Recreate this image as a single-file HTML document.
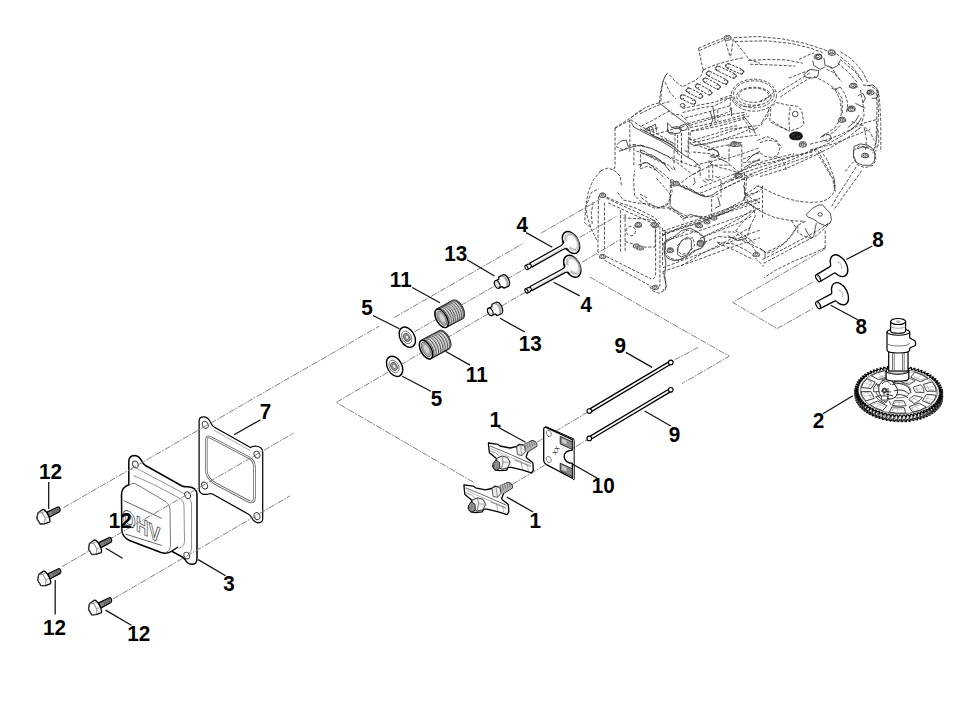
<!DOCTYPE html>
<html><head><meta charset="utf-8"><title>OHV valve train parts diagram</title><style>
html,body{margin:0;padding:0;background:#fff;}
svg{display:block;}
.lb{font-family:"Liberation Sans",sans-serif;font-weight:bold;font-size:22px;fill:#000;}
.ld{stroke:#111;stroke-width:1.25;fill:none;}
.dd{stroke:#828282;stroke-width:1.0;fill:none;stroke-dasharray:6.4 1.3 1.6 1.3;}
.en{stroke:#333;stroke-width:0.85;fill:none;stroke-dasharray:3.2 1.6;}
.es{stroke:#333;stroke-width:0.85;fill:none;}
</style></head>
<body><svg width="973" height="702" viewBox="0 0 973 702">
<rect width="973" height="702" fill="#fff"/>
<polyline points="698.49,48.21 711.65,42.57 722.94,38.24" class="en"/>
<polyline points="699.43,50.47 711.65,45.01 723.31,40.69" class="en"/>
<polyline points="698.49,48.21 700.37,57.62 702.25,66.08 703.19,69.84" class="en"/>
<polyline points="703.19,69.84 701.31,75.48 695.67,80.18 688.14,83.95 682.50,86.77" class="en"/>
<polyline points="682.50,86.77 674.98,81.12 668.40,73.60" class="en"/>
<polyline points="667.64,72.66 663.69,79.24 660.87,89.59 659.37,102.75" class="en"/>
<polyline points="665.76,74.92 662.75,82.07 661.25,93.35 660.87,101.81" class="en"/>
<polyline points="665.01,82.07 669.90,92.41 675.92,98.99" class="en"/>
<polyline points="658.99,102.75 651.47,105.01 643.95,108.40 636.42,113.10 630.78,117.80" class="en"/>
<polyline points="629.84,119.68 629.84,151.65" class="en"/>
<polyline points="630.78,119.68 642.07,127.20 655.23,132.85 668.40,140.37 674.04,144.13" class="en"/>
<polyline points="682.50,108.40 696.61,105.57 711.65,102.75 728.58,98.05" class="en"/>
<polyline points="685.32,117.80 700.37,114.04 715.41,109.90 730.46,105.57" class="en"/>
<polyline points="690.02,125.32 707.89,119.68 726.70,114.98 745.51,112.16" class="en"/>
<polyline points="690.96,130.96 711.65,125.32 730.46,120.62 749.27,115.92" class="en"/>
<polyline points="674.98,132.85 674.98,151.65" class="en"/>
<polyline points="681.56,132.85 681.56,151.65" class="en"/>
<polyline points="688.71,127.20 688.71,151.65" class="en"/>
<polyline points="692.85,140.37 711.65,134.73 730.46,129.08 759.99,125.32" class="en"/>
<polyline points="692.85,146.01 711.65,142.25 730.46,138.49 759.99,134.73" class="en"/>
<polyline points="724.82,38.81 728.58,51.97 730.46,57.62" class="en"/>
<polyline points="733.28,38.81 731.40,51.97 730.46,57.62" class="en"/>
<polyline points="734.22,40.69 743.63,51.97 749.27,59.50 759.99,63.26" class="en"/>
<polyline points="703.19,69.84 715.41,64.76 730.46,60.44 743.63,57.62" class="en"/>
<polyline points="734.11,37.68 757.62,36.55 782.07,38.81 804.63,43.32 821.56,48.78 829.08,51.41" class="en"/>
<polyline points="735.05,41.44 767.02,40.88 791.47,43.51 810.28,48.02 822.50,52.54" class="en"/>
<polyline points="836.61,53.85 844.13,59.50 851.65,66.08 858.24,74.54 862.94,82.07" class="en"/>
<polyline points="840.37,51.97 849.77,57.62 857.30,65.14 862.94,72.66 867.64,82.07" class="en"/>
<polyline points="862.94,84.89 870.46,85.83 876.10,89.59 878.92,95.23 879.86,104.63 880.80,123.44 880.80,151.65" class="en"/>
<polyline points="876.10,92.41 877.04,104.63 876.48,125.32 875.73,151.65" class="en"/>
<polyline points="778.30,92.41 795.23,82.07 810.28,72.66" class="en"/>
<polyline points="780.18,97.11 797.11,85.83 812.16,76.42" class="en"/>
<polyline points="748.21,60.44 767.02,59.50 785.83,59.87 802.75,63.26" class="en"/>
<polyline points="750.09,64.20 776.42,65.14 795.23,66.08" class="en"/>
<polyline points="814.04,76.42 825.32,82.07 836.61,89.59 842.25,98.99 842.25,114.04" class="en"/>
<polyline points="770.78,108.40 769.84,121.56 776.42,125.32 789.59,130.96" class="en"/>
<polyline points="810.28,144.13 825.32,140.37 840.37,134.73 851.65,129.08 862.94,123.44 876.10,119.68" class="en"/>
<polyline points="810.28,149.77 832.85,144.13 851.65,136.61 870.46,129.08" class="en"/>
<polyline points="851.65,121.56 862.94,125.32 870.46,132.85 874.22,140.37" class="en"/>
<polyline points="821.56,136.61 832.85,132.85 840.37,125.32" class="en"/>
<polyline points="720.00,129.08 738.81,125.32" class="en"/>
<polyline points="742.57,117.80 748.21,125.32 750.09,132.85" class="en"/>
<polyline points="757.62,140.37 767.02,136.61 776.42,140.37 782.07,147.89" class="en"/>
<polyline points="768.90,110.28 763.26,119.68 761.38,125.32" class="en"/>
<polyline points="720.00,98.99 731.28,95.23" class="en"/>
<polyline points="798.99,59.50 806.51,55.73 814.04,52.91" class="en"/>
<polyline points="825.32,65.14 832.85,68.90 836.61,76.42 842.25,82.07" class="en"/>
<polyline points="614.79,128.46 623.26,123.76 630.78,120.00" class="en"/>
<polyline points="615.73,146.33 623.26,150.09 630.78,145.39 636.42,144.45" class="en"/>
<polyline points="632.66,144.45 651.47,148.21 666.51,155.73 677.80,163.26 685.32,168.90 692.85,174.54" class="en"/>
<polyline points="636.42,151.03 655.23,157.62 668.40,165.14 674.04,170.78" class="en"/>
<polyline points="638.30,165.14 645.83,162.32 655.23,167.02 664.63,174.54 670.28,180.18 672.16,191.47 668.40,202.75 662.75,206.51 655.23,208.40 642.07,202.75 634.54,195.23 633.60,180.18 634.54,170.78" class="en"/>
<polyline points="640.18,168.90 647.71,166.08 657.11,170.78 664.63,178.30" class="en"/>
<polyline points="600.69,170.78 608.21,167.96 614.79,170.78 620.44,176.42 621.38,185.83" class="en"/>
<polyline points="600.69,170.78 593.17,180.18 588.46,191.47 585.64,206.51 587.52,217.80 591.28,229.08 596.93,240.37" class="en"/>
<polyline points="604.45,202.75 604.45,251.65" class="en"/>
<polyline points="602.57,195.23 619.50,202.75 636.42,208.40 655.23,217.80 660.87,225.32" class="en"/>
<polyline points="620.44,210.28 620.44,251.65" class="en"/>
<polyline points="625.14,214.04 625.14,251.65" class="en"/>
<polyline points="668.40,208.40 685.32,217.80 696.61,215.92 711.65,217.80 730.46,208.40 749.27,200.87" class="en"/>
<polyline points="664.63,232.85 683.44,227.20 702.25,221.56 721.06,214.04 739.86,206.51 759.99,198.99" class="en"/>
<polyline points="666.51,240.37 685.32,234.73 704.13,229.08 722.94,222.50 743.63,214.98 759.99,208.40" class="en"/>
<polyline points="674.04,163.26 674.04,150.09" class="en"/>
<polyline points="681.56,163.26 681.56,150.09" class="en"/>
<polyline points="688.14,157.62 688.14,138.81" class="en"/>
<polyline points="689.08,138.81 711.65,148.21 730.46,144.45 741.75,142.57" class="en"/>
<polyline points="692.85,174.54 711.65,165.14 730.46,165.14 741.75,174.54" class="en"/>
<polyline points="721.06,180.18 721.06,197.11" class="en"/>
<polyline points="685.32,185.83 700.37,195.23 711.65,197.11 719.18,193.35" class="en"/>
<polyline points="711.65,198.99 711.65,217.80" class="en"/>
<polyline points="741.75,144.45 741.75,176.42" class="en"/>
<polyline points="730.46,180.18 749.27,174.54 759.99,170.78" class="en"/>
<polyline points="745.51,195.23 759.99,191.47" class="en"/>
<polyline points="651.47,135.05 666.51,131.28 677.80,127.52" class="en"/>
<polyline points="645.83,131.28 658.99,127.52" class="en"/>
<polyline points="692.85,151.97 711.65,153.85 722.94,157.62" class="en"/>
<polyline points="598.43,196.28 597.87,254.59" class="en"/>
<polyline points="606.33,198.17 655.23,220.73" class="en"/>
<polyline points="608.21,202.87 653.35,223.56" class="en"/>
<polyline points="659.93,226.38 659.93,286.56" class="en"/>
<polyline points="654.29,224.50 655.61,228.26 655.61,275.28 653.35,279.04" class="en"/>
<polyline points="604.45,260.23 651.47,286.56" class="en"/>
<polyline points="606.33,256.47 651.47,279.04" class="en"/>
<polyline points="649.59,286.56 653.35,291.26 658.99,293.14 664.63,290.32" class="en"/>
<polyline points="623.26,217.91 642.07,218.85 655.23,220.73" class="en"/>
<polyline points="625.14,241.42 642.07,247.07 655.23,247.07" class="en"/>
<polyline points="655.23,220.73 655.23,247.07" class="en"/>
<polyline points="585.64,207.57 591.28,192.52 598.81,188.76" class="en"/>
<polyline points="585.64,207.57 584.70,222.62 591.28,228.26" class="en"/>
<polyline points="593.17,201.93 591.28,213.21 592.22,224.50" class="en"/>
<polyline points="664.63,241.42 670.28,237.66 677.80,235.78 687.20,230.14 696.61,232.02 704.13,237.66 704.13,245.18 698.49,248.95 692.85,252.71 685.32,258.35 677.80,260.23 670.28,258.35 665.57,252.71 664.63,241.42" class="en"/>
<polyline points="677.80,245.18 683.44,239.54 692.85,237.66 694.73,245.18 689.08,252.71 681.56,254.59 677.80,250.83 677.80,245.18" class="en"/>
<polyline points="662.75,231.08 696.61,219.79 730.46,207.57 759.99,198.17" class="en"/>
<polyline points="662.75,234.84 696.61,223.56 730.46,211.33 759.99,201.93" class="en"/>
<polyline points="662.75,267.75 692.85,256.47 722.94,245.18 749.27,233.90 759.99,230.14" class="en"/>
<polyline points="662.75,271.51 696.61,260.23 726.70,248.95 759.99,237.66" class="en"/>
<polyline points="722.94,232.02 734.22,232.02 745.51,239.54 753.03,247.07 758.67,256.47" class="en"/>
<polyline points="670.28,185.00 670.28,201.93 666.51,205.69 658.99,207.57" class="en"/>
<polyline points="617.62,192.52 623.26,200.05 636.42,202.87 647.71,203.81 658.99,207.57 666.51,205.69" class="en"/>
<polyline points="668.40,207.57 677.80,211.33 685.32,218.85" class="en"/>
<polyline points="662.75,271.51 666.51,286.56 662.75,290.32" class="en"/>
<polyline points="743.63,185.00 745.51,196.28 749.27,203.81 758.67,209.45" class="en"/>
<polyline points="856.10,166.93 846.70,181.97 839.18,193.26 831.65,206.42" class="en"/>
<polyline points="861.75,170.69 852.34,183.85 842.94,197.02 833.53,210.18" class="en"/>
<polyline points="820.37,150.00 827.89,161.28 833.53,176.33 835.41,191.38" class="en"/>
<polyline points="743.26,198.90 752.66,206.42 762.07,212.07 775.23,217.71 790.28,220.53 805.32,221.47" class="en"/>
<polyline points="805.32,221.47 797.80,225.23 794.04,230.87 790.28,236.51 780.87,245.92 773.35,251.56 765.83,253.44" class="en"/>
<polyline points="716.93,242.16 733.85,244.04 748.90,251.56 756.42,259.08 762.07,264.73 763.95,266.61" class="en"/>
<polyline points="718.81,236.51 737.62,238.40 750.78,244.04 758.30,247.80 765.83,252.50" class="en"/>
<polyline points="825.07,247.80 812.85,253.44 794.04,260.96 775.23,270.37 763.95,277.89" class="en"/>
<polyline points="756.42,185.73 762.07,187.62" class="en"/>
<polyline points="743.26,198.90 754.54,193.26 763.95,187.62" class="en"/>
<polyline points="700.00,187.62 718.81,180.09 737.62,172.57 756.42,165.05 775.23,161.28 794.04,155.64 812.85,151.88" class="en"/>
<polyline points="700.00,193.26 718.81,185.73 737.62,178.21" class="en"/>
<polyline points="733.85,174.45 748.90,166.93 763.95,161.28 778.99,157.52 794.04,153.76" class="en"/>
<polyline points="735.73,230.87 748.90,238.40 754.54,244.04" class="en"/>
<polyline points="735.73,230.87 743.26,221.47 750.78,213.95 756.42,208.30" class="en"/>
<polyline points="797.80,225.23 797.80,232.75 805.32,236.51 810.96,238.40" class="en"/>
<polyline points="700.00,238.40 718.81,230.87 737.62,223.35 752.66,215.83" class="en"/>
<polyline points="700.00,244.04 718.81,236.51" class="en"/>
<polyline points="853.53,150.69 859.18,145.99 868.58,146.93 874.22,152.57 876.10,160.09 872.34,165.73 864.82,167.62 857.30,164.79 853.53,158.21 853.53,150.69" class="en"/>
<polyline points="877.98,130.00 878.92,141.28 877.04,148.81" class="en"/>
<polyline points="817.80,150.69 827.20,167.62 832.85,178.90 834.73,190.18" class="en"/>
<polyline points="720.00,184.54 744.45,172.32 776.42,161.97 817.80,148.81" class="en"/>
<polyline points="720.00,190.18 744.45,178.90 776.42,167.62 814.04,154.45" class="en"/>
<polyline points="744.45,172.32 744.45,199.59" class="en"/>
<polyline points="640.00,145.17 652.54,148.93 665.08,155.20 677.62,160.22 690.16,165.24 700.19,167.74" class="en"/>
<polyline points="640.00,113.82 652.54,107.55 665.08,102.54 671.35,101.29" class="en"/>
<polyline points="671.35,113.82 681.38,115.08 686.39,120.09 690.16,126.36" class="en"/>
<polyline points="682.63,112.57 692.66,110.06 702.70,107.55 712.73,106.30 721.50,102.54 730.28,97.52" class="en"/>
<polyline points="687.65,123.86 700.19,120.09 710.22,117.59 720.25,115.08 730.28,111.32" class="en"/>
<polyline points="690.16,127.62 702.70,125.11 715.24,122.60 730.28,118.84 746.58,113.82" class="en"/>
<polyline points="691.41,131.38 705.20,128.87 717.74,126.36 731.54,122.60 744.08,118.84" class="en"/>
<polyline points="692.66,142.66 705.20,140.16 717.74,136.39 730.28,131.38 742.82,127.62" class="en"/>
<polyline points="695.17,145.17 707.71,143.92 720.25,140.16 735.30,135.14 747.84,130.13" class="en"/>
<polyline points="717.74,110.06 717.74,121.35" class="en"/>
<polyline points="730.28,97.52 730.28,111.32" class="en"/>
<polyline points="695.17,165.24 715.24,160.22 730.28,157.71 745.33,152.70 760.00,147.68" class="en"/>
<polyline points="708.97,160.22 708.97,177.77" class="en"/>
<polyline points="729.03,143.92 729.03,165.24" class="en"/>
<polyline points="700.19,167.74 700.19,177.77" class="en"/>
<polyline points="732.79,97.52 735.30,102.54 740.31,106.30 752.85,106.30 760.00,105.05" class="en"/>
<polyline points="742.82,158.97 752.85,155.20 760.00,152.70" class="en"/>
<polyline points="742.82,162.73 752.85,161.47 760.00,160.22" class="en"/>
<polyline points="768.78,108.81 776.30,102.54 787.59,105.05 797.62,106.30 801.38,110.06 802.63,115.08 803.89,123.86 800.13,127.62 788.84,131.38" class="en"/>
<polyline points="768.78,108.81 767.52,117.59 760.00,123.86" class="en"/>
<polyline points="772.54,121.35 788.84,131.38" class="en"/>
<polyline points="790.09,107.55 788.84,117.59 789.47,130.13" class="en"/>
<polyline points="760.00,170.25 785.08,162.73 810.16,151.44 830.22,142.66 845.27,133.89 855.30,126.36" class="en"/>
<polyline points="760.00,176.52 785.08,169.00 810.16,157.71 830.22,147.68 847.77,137.65 860.31,127.62" class="en"/>
<polyline points="835.24,90.00 840.25,100.03 841.50,112.57 840.25,118.84 835.24,127.62 827.71,132.63 822.70,136.39" class="en"/>
<polyline points="813.92,148.93 821.44,160.22 828.97,172.76 831.47,177.77" class="en"/>
<polyline points="877.87,90.00 878.50,115.08 876.61,140.16 872.85,152.70" class="en"/>
<polyline points="860.31,90.00 862.82,102.54 864.08,115.08 860.31,127.62 855.30,131.38" class="en"/>
<polyline points="760.00,101.29 767.52,97.52 772.54,93.76 775.05,90.00" class="en"/>
<polyline points="760.00,142.66 767.52,140.16 776.30,141.41 780.06,147.68 777.55,155.20 772.54,157.71 765.02,156.46 760.00,152.70" class="en"/>
<polyline points="776.30,156.46 781.32,158.97 785.08,165.24 786.33,170.25" class="en"/>
<polyline points="845.27,171.50 850.28,165.24 855.30,160.22" class="en"/>
<polyline points="864.08,127.62 866.58,140.16 865.33,150.19" class="en"/>
<polyline points="760.00,186.78 772.54,193.05 785.08,198.06 797.62,201.20 810.16,202.45 820.19,201.82 827.71,199.32 832.73,194.30 835.24,188.03 833.98,178.00" class="en"/>
<polyline points="763.76,263.27 785.08,251.98 803.89,241.95 816.43,235.68 828.97,224.39" class="en"/>
<polyline points="762.51,259.50 785.08,248.22 803.89,238.19 817.68,230.66 830.22,221.89" class="en"/>
<polyline points="791.35,220.63 796.36,228.16 792.60,234.43 785.08,243.20 772.54,249.47 766.27,251.98" class="en"/>
<polyline points="825.20,230.66 825.20,249.47" class="en"/>
<polyline points="762.51,185.52 762.51,218.13" class="en"/>
<polyline points="662.57,235.68 681.38,226.90 702.70,219.38 721.50,211.86 745.33,199.32" class="en"/>
<polyline points="681.38,265.77 702.70,253.24 727.77,240.70 752.85,225.65" class="en"/>
<polyline points="702.70,236.93 721.50,228.16 740.31,218.13 752.85,209.35" class="en"/>
<polyline points="746.58,178.00 745.33,194.30" class="en"/>
<polyline points="745.33,194.30 759.12,185.52" class="en"/>
<polyline points="752.85,205.59 755.36,215.62 750.34,225.65 746.58,238.19" class="en"/>
<polyline points="656.30,178.00 665.08,188.03 670.09,194.30 670.09,205.59 667.59,208.09 658.81,208.09 652.54,205.59 640.00,196.81" class="en"/>
<polyline points="670.09,205.59 677.62,213.11 683.89,220.63" class="en"/>
<polyline points="662.57,228.16 662.57,265.77" class="en"/>
<polyline points="640.00,194.30 647.52,198.06" class="en"/>
<polyline points="717.74,243.20 730.28,248.22 740.31,253.24 752.85,259.50" class="en"/>
<polyline points="745.33,194.30 752.85,199.32 760.00,203.08" class="en"/>
<polyline points="640.00,128.87 652.54,135.14 665.08,141.41 675.11,147.68" class="es"/>
<polyline points="640.00,150.19 645.02,151.44 647.52,153.95 652.54,155.20 656.30,157.71 660.06,160.22 665.08,165.24 670.09,171.50" class="es"/>
<polyline points="658.81,102.54 671.35,112.57 681.38,120.09 690.16,126.36" class="es"/>
<polyline points="667.59,122.60 667.59,131.38 670.09,133.89 675.11,133.89" class="es"/>
<polyline points="712.73,106.30 715.24,121.35 716.49,122.60" class="es"/>
<polyline points="731.54,107.55 731.54,116.33" class="es"/>
<polyline points="710.22,111.32 712.73,120.09 710.22,126.36" class="es"/>
<polyline points="742.82,115.08 747.84,121.35 752.85,127.62 755.36,133.89" class="es"/>
<polyline points="747.84,127.62 752.85,130.13 757.87,127.62" class="es"/>
<polyline points="645.02,130.13 650.03,126.36 652.54,127.62 653.79,132.63" class="es"/>
<polyline points="671.35,127.62 677.62,126.36 681.38,128.87 680.13,132.63 675.11,133.89" class="es"/>
<polyline points="707.71,150.19 712.73,148.93 717.74,151.44 719.00,155.20 715.24,157.71 710.22,156.46" class="es"/>
<polyline points="717.74,157.71 722.76,160.22 727.77,162.73" class="es"/>
<polyline points="854.04,146.43 860.31,143.92 867.84,145.17 872.85,148.93 875.36,153.95 874.11,161.47 870.34,165.24 862.82,165.24 856.55,162.73 853.42,155.20 854.04,146.43" class="es"/>
<polyline points="856.55,148.93 862.82,147.05 869.09,148.31" class="es"/>
<polyline points="820.19,137.65 825.20,133.89 830.22,135.14 831.47,138.90 827.71,141.41 822.70,140.16" class="es"/>
<polyline points="847.77,127.62 855.30,121.35 859.06,115.08" class="es"/>
<polyline points="850.28,130.13 857.81,123.86 861.57,117.59" class="es"/>
<polyline points="806.39,214.36 812.66,208.09 818.93,204.96 822.70,204.96 826.46,209.35 830.22,213.11 831.47,219.38 830.22,223.14 825.20,225.65 818.93,223.14 813.92,219.38 807.65,216.87 806.39,214.36" class="es"/>
<polyline points="805.14,228.16 807.65,233.17 811.41,238.19 813.92,235.68 815.17,228.16 816.43,223.14" class="es"/>
<polyline points="760.00,248.22 765.02,251.98 765.02,258.25" class="es"/>
<polyline points="663.82,243.20 672.60,238.19 681.38,230.66 690.16,228.16 697.68,231.92 703.95,236.93 705.20,243.20 701.44,248.22 693.92,250.73 687.65,255.74 680.13,259.50 673.86,260.76 667.59,258.25 664.45,253.24 663.82,243.20" class="es"/>
<polyline points="677.62,248.22 681.38,240.70 687.65,236.93 691.41,240.70 691.41,248.22 687.65,254.49 681.38,257.00 677.62,254.49 677.62,248.22" class="es"/>
<polyline points="682.63,219.38 690.16,214.36 698.93,216.87 705.20,219.38 711.47,218.13 717.74,215.62 727.77,211.86 732.79,209.35" class="es"/>
<polyline points="671.35,181.76 678.87,185.52 687.65,189.29 695.17,193.05 705.20,196.81 711.47,195.55 715.24,193.05" class="es"/>
<polyline points="727.77,235.68 737.81,240.70 746.58,238.19" class="es"/>
<polyline points="717.74,196.81 720.25,205.59 715.24,208.09" class="es"/>
<polyline points="615.05,127.87 628.22,119.41 642.33,110.00" class="en"/>
<polyline points="615.05,127.87 615.05,166.44 613.17,171.15" class="en"/>
<polyline points="641.39,125.99 652.68,120.35 665.85,112.82 671.50,110.00" class="en"/>
<polyline points="633.87,147.63 633.87,166.44" class="en"/>
<polyline points="640.45,149.51 640.45,166.44" class="en"/>
<polyline points="656.44,137.28 665.85,140.10 673.38,142.93" class="en"/>
<polyline points="684.67,150.45 690.03,153.27" class="en"/>
<polyline points="677.14,153.27 681.84,156.10" class="en"/>
<polyline points="631.04,122.23 633.87,126.93 642.33,131.64 651.74,136.34 661.15,141.04 673.38,148.57 677.14,152.33" class="es"/>
<polyline points="644.21,130.70 648.92,126.93 650.80,134.46" class="es"/>
<polyline points="650.80,126.93 655.50,124.11 656.44,131.64" class="es"/>
<polyline points="618.81,151.39 624.46,149.51 632.93,146.69 640.45,145.28 644.21,145.75" class="es"/>
<polyline points="616.93,144.81 620.70,141.04 626.34,140.10 628.22,146.69" class="es"/>
<polyline points="641.39,152.33 643.27,154.21 645.16,153.74 647.04,155.63 648.92,155.16 650.80,157.51 652.68,157.04 654.56,159.39 656.44,158.92 658.33,161.27 660.21,160.80 662.09,163.15 663.97,162.68 665.85,165.50" class="es"/>
<polyline points="667.73,123.17 671.50,126.93 675.26,128.81 679.96,127.87 684.67,125.99" class="es"/>
<polyline points="667.73,128.81 668.67,132.58 673.38,132.58" class="es"/>
<polyline points="679.96,125.99 684.67,124.11 687.49,125.99 686.55,129.76 681.84,130.70 679.02,128.81 679.96,125.99" class="es"/>
<polyline points="673.38,166.44 675.26,170.21" class="es"/>
<polyline points="677.62,135.02 677.62,152.57" class="en"/>
<polyline points="690.16,132.51 690.16,143.79" class="en"/>
<polyline points="690.16,143.79 700.19,146.30 710.22,150.06" class="en"/>
<polyline points="681.38,182.66 687.65,177.65 693.92,173.89 700.19,170.13" class="en"/>
<polyline points="710.22,163.86 720.25,167.62 730.28,170.13 739.06,172.63" class="en"/>
<polyline points="712.73,165.11 712.73,180.16" class="en"/>
<polyline points="715.24,192.70 727.77,186.43 740.31,180.16 752.85,173.89" class="en"/>
<polyline points="671.35,207.74 680.13,212.76 687.65,216.52" class="en"/>
<polyline points="651.29,135.02 662.57,140.03 672.60,145.05 677.62,150.06 683.89,155.08 692.66,160.09 700.19,166.36" class="es"/>
<polyline points="640.00,167.62 642.51,163.23 647.52,162.60 652.54,166.36 657.55,171.38" class="es"/>
<polyline points="693.92,177.65 695.17,182.66 692.66,185.17" class="es"/>
<polyline points="702.70,180.16 706.46,182.66" class="es"/>
<polyline points="705.20,178.90 707.71,180.16 710.22,179.53 712.73,180.78" class="es"/>
<polyline points="715.24,176.39 717.74,177.65 720.25,176.39" class="es"/>
<polyline points="746.58,161.35 752.85,155.08 760.00,151.32" class="es"/>
<polyline points="744.08,167.62 752.85,162.60 760.00,158.84" class="es"/>
<polyline points="707.71,150.06 712.73,148.81 717.74,151.32 719.00,155.08 715.24,156.33 710.22,155.08" class="es"/>
<polyline points="710.22,163.86 712.73,161.35" class="es"/>
<polyline points="670.09,180.16 672.60,179.53 675.11,182.66 677.62,182.04 681.38,186.43 683.89,185.80 685.14,188.93 688.28,188.68 690.16,190.19 692.66,189.94 695.17,192.70 697.68,192.45 700.19,195.20 702.70,194.58 705.20,196.46" class="es"/>
<polyline points="826.43,69.38 835.20,73.14 840.22,80.66" class="en"/>
<polyline points="840.22,59.35 847.74,65.62 855.27,71.89 861.54,80.66" class="en"/>
<polyline points="837.71,63.11 845.24,69.38 851.50,75.65 857.77,83.17" class="en"/>
<polyline points="840.22,86.93 845.24,94.46 847.74,103.24 846.49,113.27" class="en"/>
<polyline points="788.81,78.16 801.35,73.14 811.38,69.38" class="en"/>
<polyline points="812.63,60.60 813.89,65.62 820.16,69.38 825.17,66.87" class="es"/>
<polyline points="823.92,58.09 825.17,65.62" class="es"/>
<polyline points="803.86,74.39 810.13,69.38 818.90,70.63 817.65,76.90 811.38,78.16 805.11,76.90 803.86,74.39" class="es"/>
<polyline points="831.44,88.19 835.20,89.44 840.22,86.93" class="es"/>
<polyline points="866.55,85.68 872.82,85.05 876.58,88.19 878.46,93.20 876.58,98.22 871.57,98.22" class="es"/>
<polyline points="827.68,65.62 832.70,68.13 837.71,65.62 840.22,60.60" class="es"/>
<polyline points="857.77,95.71 862.79,93.20 865.30,98.22 862.79,103.24" class="es"/>
<polyline points="855.27,103.24 860.28,105.74 865.30,108.25" class="es"/>
<polyline points="665.01,230.14 665.95,241.42 664.45,252.71 665.95,263.99 664.63,275.28 666.14,286.56 665.01,290.32" class="es"/>
<rect x="679.5" y="97.1" width="17.0" height="4.8" rx="2.4" transform="rotate(25.1 688.0 99.5)" class="en" style="stroke-dasharray:2.6 1.2"/>
<path d="M683.8,95.5 A2 2 0 1 0 684.1,98.2" class="es"/>
<path d="M692.3,103.6 A2 2 0 1 0 692.0,100.9" class="es"/>
<rect x="685.3" y="90.8" width="18.2" height="4.8" rx="2.4" transform="rotate(26.6 694.4 93.2)" class="en" style="stroke-dasharray:2.6 1.2"/>
<path d="M689.7,88.8 A2 2 0 1 0 690.0,91.5" class="es"/>
<path d="M699.1,97.7 A2 2 0 1 0 698.8,95.0" class="es"/>
<rect x="694.3" y="87.0" width="18.6" height="4.8" rx="2.4" transform="rotate(29.6 703.6 89.4)" class="en" style="stroke-dasharray:2.6 1.2"/>
<path d="M698.9,84.6 A2 2 0 1 0 699.2,87.3" class="es"/>
<path d="M708.3,94.3 A2 2 0 1 0 708.0,91.6" class="es"/>
<rect x="702.0" y="81.2" width="19.3" height="4.8" rx="2.4" transform="rotate(28.0 711.6 83.6)" class="en" style="stroke-dasharray:2.6 1.2"/>
<path d="M706.5,78.7 A2 2 0 1 0 706.8,81.4" class="es"/>
<path d="M716.7,88.4 A2 2 0 1 0 716.4,85.7" class="es"/>
<rect x="705.2" y="75.3" width="23.8" height="4.8" rx="2.4" transform="rotate(26.6 717.1 77.7)" class="en" style="stroke-dasharray:2.6 1.2"/>
<path d="M709.9,72.0 A2 2 0 1 0 710.2,74.7" class="es"/>
<path d="M724.3,83.4 A2 2 0 1 0 724.0,80.7" class="es"/>
<rect x="714.5" y="69.8" width="22.7" height="4.8" rx="2.4" transform="rotate(25.4 725.9 72.2)" class="en" style="stroke-dasharray:2.6 1.2"/>
<path d="M719.1,66.9 A2 2 0 1 0 719.4,69.6" class="es"/>
<path d="M732.7,77.5 A2 2 0 1 0 732.4,74.8" class="es"/>
<rect x="724.9" y="66.4" width="19.6" height="4.8" rx="2.4" transform="rotate(23.8 734.7 68.8)" class="en" style="stroke-dasharray:2.6 1.2"/>
<path d="M729.2,64.4 A2 2 0 1 0 729.5,67.1" class="es"/>
<path d="M740.2,73.3 A2 2 0 1 0 739.9,70.6" class="es"/>
<ellipse cx="682.6" cy="105.4" rx="2.4" ry="1.9" class="es"/>
<ellipse cx="753.9" cy="95.2" rx="22.6" ry="16.0" class="en"/>
<ellipse cx="753.9" cy="94.3" rx="20.3" ry="13.5" class="en"/>
<ellipse cx="753.9" cy="96.2" rx="17.3" ry="9.0" class="en"/>
<ellipse cx="753.9" cy="95.2" rx="15.0" ry="7.1" class="en"/>
<ellipse cx="727.5" cy="37.9" rx="3.5" ry="2.6" fill="#fff" stroke="#333" stroke-width="0.8"/>
<ellipse cx="727.5" cy="37.7" rx="1.8" ry="1.2" fill="none" stroke="#333" stroke-width="0.8"/>
<path d="M724.0,37.9 l0,2.2 M731.0,37.9 l0,2.2" stroke="#555" stroke-width="0.7" fill="none"/>
<ellipse cx="831.9" cy="52.9" rx="3.5" ry="2.6" fill="#fff" stroke="#333" stroke-width="0.8"/>
<ellipse cx="831.9" cy="52.7" rx="1.8" ry="1.2" fill="none" stroke="#333" stroke-width="0.8"/>
<path d="M828.4,52.9 l0,2.2 M835.4,52.9 l0,2.2" stroke="#555" stroke-width="0.7" fill="none"/>
<ellipse cx="817.8" cy="56.7" rx="3.5" ry="2.6" fill="#fff" stroke="#333" stroke-width="0.8"/>
<ellipse cx="817.8" cy="56.5" rx="1.8" ry="1.2" fill="none" stroke="#333" stroke-width="0.8"/>
<path d="M814.3,56.7 l0,2.2 M821.3,56.7 l0,2.2" stroke="#555" stroke-width="0.7" fill="none"/>
<ellipse cx="853.5" cy="85.8" rx="3.5" ry="2.6" fill="#fff" stroke="#333" stroke-width="0.8"/>
<ellipse cx="853.5" cy="85.6" rx="1.8" ry="1.2" fill="none" stroke="#333" stroke-width="0.8"/>
<path d="M850.0,85.8 l0,2.2 M857.1,85.8 l0,2.2" stroke="#555" stroke-width="0.7" fill="none"/>
<ellipse cx="851.7" cy="108.4" rx="3.5" ry="2.6" fill="#fff" stroke="#333" stroke-width="0.8"/>
<ellipse cx="851.7" cy="108.2" rx="1.8" ry="1.2" fill="none" stroke="#333" stroke-width="0.8"/>
<path d="M848.1,108.4 l0,2.2 M855.2,108.4 l0,2.2" stroke="#555" stroke-width="0.7" fill="none"/>
<ellipse cx="842.2" cy="119.7" rx="3.5" ry="2.6" fill="#fff" stroke="#333" stroke-width="0.8"/>
<ellipse cx="842.2" cy="119.5" rx="1.8" ry="1.2" fill="none" stroke="#333" stroke-width="0.8"/>
<path d="M838.7,119.7 l0,2.2 M845.8,119.7 l0,2.2" stroke="#555" stroke-width="0.7" fill="none"/>
<ellipse cx="802.8" cy="144.1" rx="3.5" ry="2.6" fill="#fff" stroke="#333" stroke-width="0.8"/>
<ellipse cx="802.8" cy="143.9" rx="1.8" ry="1.2" fill="none" stroke="#333" stroke-width="0.8"/>
<path d="M799.2,144.1 l0,2.2 M806.3,144.1 l0,2.2" stroke="#555" stroke-width="0.7" fill="none"/>
<ellipse cx="734.1" cy="144.1" rx="3.5" ry="2.6" fill="#fff" stroke="#333" stroke-width="0.8"/>
<ellipse cx="734.1" cy="143.9" rx="1.8" ry="1.2" fill="none" stroke="#333" stroke-width="0.8"/>
<path d="M730.6,144.1 l0,2.2 M737.6,144.1 l0,2.2" stroke="#555" stroke-width="0.7" fill="none"/>
<ellipse cx="870.5" cy="92.4" rx="3.5" ry="2.6" fill="#fff" stroke="#333" stroke-width="0.8"/>
<ellipse cx="870.5" cy="92.2" rx="1.8" ry="1.2" fill="none" stroke="#333" stroke-width="0.8"/>
<path d="M866.9,92.4 l0,2.2 M874.0,92.4 l0,2.2" stroke="#555" stroke-width="0.7" fill="none"/>
<path d="M789.2,136.5 C789,133 793,131.4 797,131.6 C801,131.8 803.2,134 802.8,137 C802.4,139.6 799,140.6 795.5,140.3 C792,140.1 789.4,139 789.2,136.5 Z" fill="#1a1a1a"/>
<path d="M792,135 L795,134 M797,137 L800,136.5 M794.5,138.5 L796,139" stroke="#666" stroke-width="0.5" fill="none"/>
<ellipse cx="795.2" cy="114.0" rx="2.8" ry="2.8" class="es"/>
<ellipse cx="602.6" cy="195.2" rx="3.1" ry="2.2" fill="#fff" stroke="#333" stroke-width="0.8"/>
<ellipse cx="602.6" cy="195.0" rx="1.5" ry="1.1" fill="none" stroke="#333" stroke-width="0.8"/>
<path d="M599.5,195.2 l0,2.0 M605.6,195.2 l0,2.0" stroke="#555" stroke-width="0.7" fill="none"/>
<ellipse cx="674.0" cy="183.9" rx="3.1" ry="2.2" fill="#fff" stroke="#333" stroke-width="0.8"/>
<ellipse cx="674.0" cy="183.7" rx="1.5" ry="1.1" fill="none" stroke="#333" stroke-width="0.8"/>
<path d="M671.0,183.9 l0,2.0 M677.1,183.9 l0,2.0" stroke="#555" stroke-width="0.7" fill="none"/>
<ellipse cx="738.0" cy="175.5" rx="3.1" ry="2.2" fill="#fff" stroke="#333" stroke-width="0.8"/>
<ellipse cx="738.0" cy="175.3" rx="1.5" ry="1.1" fill="none" stroke="#333" stroke-width="0.8"/>
<path d="M734.9,175.5 l0,2.0 M741.1,175.5 l0,2.0" stroke="#555" stroke-width="0.7" fill="none"/>
<ellipse cx="734.2" cy="144.4" rx="3.1" ry="2.2" fill="#fff" stroke="#333" stroke-width="0.8"/>
<ellipse cx="734.2" cy="144.2" rx="1.5" ry="1.1" fill="none" stroke="#333" stroke-width="0.8"/>
<path d="M731.1,144.4 l0,2.0 M737.3,144.4 l0,2.0" stroke="#555" stroke-width="0.7" fill="none"/>
<ellipse cx="655.2" cy="225.3" rx="3.1" ry="2.2" fill="#fff" stroke="#333" stroke-width="0.8"/>
<ellipse cx="655.2" cy="225.1" rx="1.5" ry="1.1" fill="none" stroke="#333" stroke-width="0.8"/>
<path d="M652.2,225.3 l0,2.0 M658.3,225.3 l0,2.0" stroke="#555" stroke-width="0.7" fill="none"/>
<ellipse cx="638.3" cy="225.3" rx="3.1" ry="2.2" fill="#fff" stroke="#333" stroke-width="0.8"/>
<ellipse cx="638.3" cy="225.1" rx="1.5" ry="1.1" fill="none" stroke="#333" stroke-width="0.8"/>
<path d="M635.2,225.3 l0,2.0 M641.4,225.3 l0,2.0" stroke="#555" stroke-width="0.7" fill="none"/>
<ellipse cx="636.4" cy="246.0" rx="3.1" ry="2.2" fill="#fff" stroke="#333" stroke-width="0.8"/>
<ellipse cx="636.4" cy="245.8" rx="1.5" ry="1.1" fill="none" stroke="#333" stroke-width="0.8"/>
<path d="M633.3,246.0 l0,2.0 M639.5,246.0 l0,2.0" stroke="#555" stroke-width="0.7" fill="none"/>
<ellipse cx="700.4" cy="242.2" rx="3.1" ry="2.2" fill="#fff" stroke="#333" stroke-width="0.8"/>
<ellipse cx="700.4" cy="242.0" rx="1.5" ry="1.1" fill="none" stroke="#333" stroke-width="0.8"/>
<path d="M697.3,242.2 l0,2.0 M703.4,242.2 l0,2.0" stroke="#555" stroke-width="0.7" fill="none"/>
<ellipse cx="698.5" cy="225.3" rx="3.1" ry="2.2" fill="#fff" stroke="#333" stroke-width="0.8"/>
<ellipse cx="698.5" cy="225.1" rx="1.5" ry="1.1" fill="none" stroke="#333" stroke-width="0.8"/>
<path d="M695.4,225.3 l0,2.0 M701.6,225.3 l0,2.0" stroke="#555" stroke-width="0.7" fill="none"/>
<ellipse cx="602.6" cy="195.3" rx="3.1" ry="2.2" fill="#fff" stroke="#333" stroke-width="0.8"/>
<ellipse cx="602.6" cy="195.1" rx="1.5" ry="1.1" fill="none" stroke="#333" stroke-width="0.8"/>
<path d="M599.5,195.3 l0,2.0 M605.6,195.3 l0,2.0" stroke="#555" stroke-width="0.7" fill="none"/>
<ellipse cx="655.2" cy="225.4" rx="3.1" ry="2.2" fill="#fff" stroke="#333" stroke-width="0.8"/>
<ellipse cx="655.2" cy="225.2" rx="1.5" ry="1.1" fill="none" stroke="#333" stroke-width="0.8"/>
<path d="M652.2,225.4 l0,2.0 M658.3,225.4 l0,2.0" stroke="#555" stroke-width="0.7" fill="none"/>
<ellipse cx="655.2" cy="287.5" rx="3.1" ry="2.2" fill="#fff" stroke="#333" stroke-width="0.8"/>
<ellipse cx="655.2" cy="287.3" rx="1.5" ry="1.1" fill="none" stroke="#333" stroke-width="0.8"/>
<path d="M652.2,287.5 l0,2.0 M658.3,287.5 l0,2.0" stroke="#555" stroke-width="0.7" fill="none"/>
<ellipse cx="602.6" cy="256.5" rx="3.1" ry="2.2" fill="#fff" stroke="#333" stroke-width="0.8"/>
<ellipse cx="602.6" cy="256.3" rx="1.5" ry="1.1" fill="none" stroke="#333" stroke-width="0.8"/>
<path d="M599.5,256.5 l0,2.0 M605.6,256.5 l0,2.0" stroke="#555" stroke-width="0.7" fill="none"/>
<ellipse cx="638.3" cy="224.5" rx="3.1" ry="2.2" fill="#fff" stroke="#333" stroke-width="0.8"/>
<ellipse cx="638.3" cy="224.3" rx="1.5" ry="1.1" fill="none" stroke="#333" stroke-width="0.8"/>
<path d="M635.2,224.5 l0,2.0 M641.4,224.5 l0,2.0" stroke="#555" stroke-width="0.7" fill="none"/>
<ellipse cx="640.2" cy="248.0" rx="3.1" ry="2.2" fill="#fff" stroke="#333" stroke-width="0.8"/>
<ellipse cx="640.2" cy="247.8" rx="1.5" ry="1.1" fill="none" stroke="#333" stroke-width="0.8"/>
<path d="M637.1,248.0 l0,2.0 M643.3,248.0 l0,2.0" stroke="#555" stroke-width="0.7" fill="none"/>
<ellipse cx="670.3" cy="249.9" rx="3.1" ry="2.2" fill="#fff" stroke="#333" stroke-width="0.8"/>
<ellipse cx="670.3" cy="249.7" rx="1.5" ry="1.1" fill="none" stroke="#333" stroke-width="0.8"/>
<path d="M667.2,249.9 l0,2.0 M673.4,249.9 l0,2.0" stroke="#555" stroke-width="0.7" fill="none"/>
<ellipse cx="700.4" cy="244.2" rx="3.1" ry="2.2" fill="#fff" stroke="#333" stroke-width="0.8"/>
<ellipse cx="700.4" cy="244.0" rx="1.5" ry="1.1" fill="none" stroke="#333" stroke-width="0.8"/>
<path d="M697.3,244.2 l0,2.0 M703.4,244.2 l0,2.0" stroke="#555" stroke-width="0.7" fill="none"/>
<ellipse cx="738.6" cy="175.4" rx="3.1" ry="2.2" fill="#fff" stroke="#333" stroke-width="0.8"/>
<ellipse cx="738.6" cy="175.2" rx="1.5" ry="1.1" fill="none" stroke="#333" stroke-width="0.8"/>
<path d="M735.5,175.4 l0,2.0 M741.6,175.4 l0,2.0" stroke="#555" stroke-width="0.7" fill="none"/>
<ellipse cx="756.4" cy="254.4" rx="3.1" ry="2.2" fill="#fff" stroke="#333" stroke-width="0.8"/>
<ellipse cx="756.4" cy="254.2" rx="1.5" ry="1.1" fill="none" stroke="#333" stroke-width="0.8"/>
<path d="M753.3,254.4 l0,2.0 M759.5,254.4 l0,2.0" stroke="#555" stroke-width="0.7" fill="none"/>
<ellipse cx="865.5" cy="155.6" rx="3.1" ry="2.2" fill="#fff" stroke="#333" stroke-width="0.8"/>
<ellipse cx="865.5" cy="155.4" rx="1.5" ry="1.1" fill="none" stroke="#333" stroke-width="0.8"/>
<path d="M862.4,155.6 l0,2.0 M868.6,155.6 l0,2.0" stroke="#555" stroke-width="0.7" fill="none"/>
<ellipse cx="864.8" cy="155.4" rx="3.1" ry="2.2" fill="#fff" stroke="#333" stroke-width="0.8"/>
<ellipse cx="864.8" cy="155.2" rx="1.5" ry="1.1" fill="none" stroke="#333" stroke-width="0.8"/>
<path d="M861.7,155.4 l0,2.0 M867.9,155.4 l0,2.0" stroke="#555" stroke-width="0.7" fill="none"/>
<ellipse cx="630.8" cy="231.1" rx="4.7" ry="4.7" class="en"/>
<ellipse cx="670.1" cy="250.7" rx="2.9" ry="2.1" fill="#fff" stroke="#333" stroke-width="0.8"/>
<ellipse cx="670.1" cy="250.5" rx="1.4" ry="1.0" fill="none" stroke="#333" stroke-width="0.8"/>
<path d="M667.2,250.7 l0,1.8 M673.0,250.7 l0,1.8" stroke="#555" stroke-width="0.7" fill="none"/>
<ellipse cx="700.2" cy="243.2" rx="2.9" ry="2.1" fill="#fff" stroke="#333" stroke-width="0.8"/>
<ellipse cx="700.2" cy="243.0" rx="1.4" ry="1.0" fill="none" stroke="#333" stroke-width="0.8"/>
<path d="M697.3,243.2 l0,1.8 M703.0,243.2 l0,1.8" stroke="#555" stroke-width="0.7" fill="none"/>
<ellipse cx="699.6" cy="225.6" rx="2.9" ry="2.1" fill="#fff" stroke="#333" stroke-width="0.8"/>
<ellipse cx="699.6" cy="225.4" rx="1.4" ry="1.0" fill="none" stroke="#333" stroke-width="0.8"/>
<path d="M696.7,225.6 l0,1.8 M702.4,225.6 l0,1.8" stroke="#555" stroke-width="0.7" fill="none"/>
<ellipse cx="707.1" cy="221.9" rx="2.9" ry="2.1" fill="#fff" stroke="#333" stroke-width="0.8"/>
<ellipse cx="707.1" cy="221.7" rx="1.4" ry="1.0" fill="none" stroke="#333" stroke-width="0.8"/>
<path d="M704.2,221.9 l0,1.8 M709.9,221.9 l0,1.8" stroke="#555" stroke-width="0.7" fill="none"/>
<ellipse cx="714.0" cy="218.1" rx="2.9" ry="2.1" fill="#fff" stroke="#333" stroke-width="0.8"/>
<ellipse cx="714.0" cy="217.9" rx="1.4" ry="1.0" fill="none" stroke="#333" stroke-width="0.8"/>
<path d="M711.1,218.1 l0,1.8 M716.8,218.1 l0,1.8" stroke="#555" stroke-width="0.7" fill="none"/>
<ellipse cx="653.8" cy="224.4" rx="2.9" ry="2.1" fill="#fff" stroke="#333" stroke-width="0.8"/>
<ellipse cx="653.8" cy="224.2" rx="1.4" ry="1.0" fill="none" stroke="#333" stroke-width="0.8"/>
<path d="M650.9,224.4 l0,1.8 M656.7,224.4 l0,1.8" stroke="#555" stroke-width="0.7" fill="none"/>
<ellipse cx="802.6" cy="145.2" rx="2.9" ry="2.1" fill="#fff" stroke="#333" stroke-width="0.8"/>
<ellipse cx="802.6" cy="145.0" rx="1.4" ry="1.0" fill="none" stroke="#333" stroke-width="0.8"/>
<path d="M799.8,145.2 l0,1.8 M805.5,145.2 l0,1.8" stroke="#555" stroke-width="0.7" fill="none"/>
<ellipse cx="841.5" cy="120.1" rx="2.9" ry="2.1" fill="#fff" stroke="#333" stroke-width="0.8"/>
<ellipse cx="841.5" cy="119.9" rx="1.4" ry="1.0" fill="none" stroke="#333" stroke-width="0.8"/>
<path d="M838.6,120.1 l0,1.8 M844.4,120.1 l0,1.8" stroke="#555" stroke-width="0.7" fill="none"/>
<ellipse cx="850.3" cy="108.8" rx="2.9" ry="2.1" fill="#fff" stroke="#333" stroke-width="0.8"/>
<ellipse cx="850.3" cy="108.6" rx="1.4" ry="1.0" fill="none" stroke="#333" stroke-width="0.8"/>
<path d="M847.4,108.8 l0,1.8 M853.1,108.8 l0,1.8" stroke="#555" stroke-width="0.7" fill="none"/>
<ellipse cx="820.2" cy="214.4" rx="2.2" ry="1.8" class="es"/>
<ellipse cx="676.4" cy="183.3" rx="2.9" ry="2.1" fill="#fff" stroke="#333" stroke-width="0.8"/>
<ellipse cx="676.4" cy="183.1" rx="1.4" ry="1.0" fill="none" stroke="#333" stroke-width="0.8"/>
<path d="M673.5,183.3 l0,1.8 M679.2,183.3 l0,1.8" stroke="#555" stroke-width="0.7" fill="none"/>
<ellipse cx="739.1" cy="175.8" rx="2.9" ry="2.1" fill="#fff" stroke="#333" stroke-width="0.8"/>
<ellipse cx="739.1" cy="175.6" rx="1.4" ry="1.0" fill="none" stroke="#333" stroke-width="0.8"/>
<path d="M736.2,175.8 l0,1.8 M741.9,175.8 l0,1.8" stroke="#555" stroke-width="0.7" fill="none"/>
<ellipse cx="737.8" cy="144.4" rx="2.9" ry="2.1" fill="#fff" stroke="#333" stroke-width="0.8"/>
<ellipse cx="737.8" cy="144.2" rx="1.4" ry="1.0" fill="none" stroke="#333" stroke-width="0.8"/>
<path d="M734.9,144.4 l0,1.8 M740.7,144.4 l0,1.8" stroke="#555" stroke-width="0.7" fill="none"/>
<ellipse cx="818.9" cy="56.8" rx="3.2" ry="2.8" class="es"/>
<ellipse cx="869.1" cy="91.9" rx="2.0" ry="1.6" class="es"/>
<ellipse cx="831.4" cy="51.8" rx="3.1" ry="2.2" fill="#fff" stroke="#333" stroke-width="0.8"/>
<ellipse cx="831.4" cy="51.6" rx="1.5" ry="1.1" fill="none" stroke="#333" stroke-width="0.8"/>
<path d="M828.4,51.8 l0,2.0 M834.5,51.8 l0,2.0" stroke="#555" stroke-width="0.7" fill="none"/>
<ellipse cx="852.8" cy="85.7" rx="3.1" ry="2.2" fill="#fff" stroke="#333" stroke-width="0.8"/>
<ellipse cx="852.8" cy="85.5" rx="1.5" ry="1.1" fill="none" stroke="#333" stroke-width="0.8"/>
<path d="M849.7,85.7 l0,2.0 M855.8,85.7 l0,2.0" stroke="#555" stroke-width="0.7" fill="none"/>
<ellipse cx="851.5" cy="109.5" rx="3.1" ry="2.2" fill="#fff" stroke="#333" stroke-width="0.8"/>
<ellipse cx="851.5" cy="109.3" rx="1.5" ry="1.1" fill="none" stroke="#333" stroke-width="0.8"/>
<path d="M848.4,109.5 l0,2.0 M854.6,109.5 l0,2.0" stroke="#555" stroke-width="0.7" fill="none"/>
<path d="M199.1,421.5 Q199.1,416.5 204.1,416.8 Q208.5,417.2 211.2,423.6 Q212,425.8 214.5,427.3 L250.5,447.5 Q252.5,446 255.5,446 Q262.7,446.5 262.7,452.5 L262.7,518.5 Q262.7,523 258,522.8 Q254,522.5 251.5,517.5 Q250.5,515.5 248.5,514.2 L212.5,494 Q210.5,493.2 208.5,494 Q206,494.8 203.5,494.3 Q199.1,493.2 199.1,488.5 Z M206.3,440 Q206.3,435.8 210,437.2 L249,457.6 Q254.5,461 254.5,466.5 L254.5,497.5 Q254.5,503.5 249,501.5 L216,484 Q206.3,478.5 206.3,470 Z" fill="#fff" fill-rule="evenodd" stroke="none"/>
<path d="M199.1,421.5 Q199.1,416.5 204.1,416.8 Q208.5,417.2 211.2,423.6 Q212,425.8 214.5,427.3 L250.5,447.5 Q252.5,446 255.5,446 Q262.7,446.5 262.7,452.5 L262.7,518.5 Q262.7,523 258,522.8 Q254,522.5 251.5,517.5 Q250.5,515.5 248.5,514.2 L212.5,494 Q210.5,493.2 208.5,494 Q206,494.8 203.5,494.3 Q199.1,493.2 199.1,488.5 Z" fill="none" stroke="#000" stroke-width="1.25" stroke-linejoin="round"/>
<path d="M213.5,430 L250,450.5" stroke="#888" stroke-width="0.7" fill="none"/>
<path d="M206.3,440 Q206.3,435.8 210,437.2 L249,457.6 Q254.5,461 254.5,466.5 L254.5,497.5 Q254.5,503.5 249,501.5 L216,484 Q206.3,478.5 206.3,470 Z" fill="none" stroke="#6a6a6a" stroke-width="2.6"/>
<path d="M206.3,440 Q206.3,435.8 210,437.2 L249,457.6 Q254.5,461 254.5,466.5 L254.5,497.5 Q254.5,503.5 249,501.5 L216,484 Q206.3,478.5 206.3,470 Z" fill="none" stroke="#fff" stroke-width="1.0"/>
<ellipse cx="205.2" cy="424.9" rx="2.8" ry="3.6" transform="rotate(-25 205.2 424.9)" fill="#fff" stroke="#333" stroke-width="0.9"/>
<ellipse cx="257" cy="454.6" rx="2.8" ry="3.6" transform="rotate(-25 257 454.6)" fill="#fff" stroke="#333" stroke-width="0.9"/>
<ellipse cx="204.6" cy="485.5" rx="2.8" ry="3.6" transform="rotate(-25 204.6 485.5)" fill="#fff" stroke="#333" stroke-width="0.9"/>
<ellipse cx="257" cy="516.1" rx="2.8" ry="3.6" transform="rotate(-25 257 516.1)" fill="#fff" stroke="#333" stroke-width="0.9"/>
<path d="M128.8,462 Q128.8,455.5 134.5,455.5 Q139.5,455.8 142,461.5 Q143,464 145.5,465.5 L182,486 Q184.5,487 188,486.8 Q197,487.5 197,494.5 L197,558.5 Q197,564.5 191.5,564.2 Q187.5,564 185,559.5 Q183.5,557.5 181.5,556.5 L160,545 L128.8,528 Z" fill="#fff" stroke="#000" stroke-width="1.5" stroke-linejoin="round"/>
<path d="M131.5,470 Q132,466 136,468 L183,493 Q191,497 191.5,504 L191.5,548 Q191.5,555 185,553" fill="none" stroke="#777" stroke-width="0.8"/>
<ellipse cx="135.4" cy="464.4" rx="2.7" ry="3.5" transform="rotate(-25 135.4 464.4)" fill="#fff" stroke="#333" stroke-width="0.9"/>
<ellipse cx="187.6" cy="495.2" rx="2.7" ry="3.5" transform="rotate(-25 187.6 495.2)" fill="#fff" stroke="#333" stroke-width="0.9"/>
<ellipse cx="186.8" cy="555.6" rx="2.7" ry="3.5" transform="rotate(-25 186.8 555.6)" fill="#fff" stroke="#333" stroke-width="0.9"/>
<path d="M129.5,484.5 C124.5,486 121.5,489.5 121.5,495 L121.8,530 C122,535.5 124.5,538 129.5,540.5 L161,552.5 C165.5,554 168.5,553.5 172,551 L181,545 L184,500 L133,474 Z" fill="#fff" stroke="none"/>
<path d="M129.5,484.5 C124.5,486 121.5,489.5 121.5,495 L121.8,530 C122,535.5 124.5,538 129.5,540.5 L161,552.5 C165.5,554 168.5,553.5 172,551 L178,547" fill="none" stroke="#000" stroke-width="1.5"/>
<path d="M129.5,485 C132,483 134,483 136,484 L164,500.5 C168,503 169.8,506 170,510 L170.5,545 C170.5,549 169,551.5 166,552.5" fill="none" stroke="#555" stroke-width="0.8"/>
<path d="M133.4,475.7 C150,482 172,494 180,498.5 C183,500.5 184,503 184,507 L184.5,541 C184.5,545 182.5,547 178.5,548.5" fill="none" stroke="#777" stroke-width="0.8"/>
<path d="M123.8,500.6 L161.8,518.4" fill="none" stroke="#555" stroke-width="0.9"/>
<path d="M125.5,534.1 L161.8,545.5" fill="none" stroke="#555" stroke-width="0.9"/>
<text transform="matrix(0.78,0.41,0,1,122.2,523.2)" font-family="Liberation Sans" font-weight="bold" font-size="22" letter-spacing="0.6" fill="#fff" stroke="#4a4a4a" stroke-width="0.9">OHV</text>
<polyline points="63.5,507.7 379.4,326.1" class="dd"/>
<polyline points="394.3,317.5 523.7,243.1" class="dd"/>
<polyline points="541.1,233.1 600.5,199.0" class="dd"/>
<polyline points="62.0,566.6 293.4,433.3" class="dd"/>
<polyline points="113.0,599.0 290.0,495.9" class="dd"/>
<polyline points="414.5,331.8 527.0,267.6" class="dd"/>
<polyline points="579.8,237.3 617.1,216.1" class="dd"/>
<polyline points="473.3,482.1 336.2,402.4 527.0,291.2" class="dd"/>
<polyline points="582.2,262.2 619.6,239.8" class="dd"/>
<polyline points="537.0,442.2 587.3,412.4" class="dd"/>
<polyline points="674.5,359.9 698.2,347.4" class="dd"/>
<polyline points="512.0,484.6 587.3,439.8" class="dd"/>
<polyline points="589.7,277.0 729.3,356.2 682.0,383.6" class="dd"/>
<polyline points="825.6,248.7 732.7,302.4 777.0,328.6 813.3,308.3" class="dd"/>
<polyline points="761.0,311.9 814.0,281.4" class="dd"/>
<line x1="48.7" y1="482.0" x2="48.7" y2="509.0" class="ld"/>
<line x1="105.8" y1="548.3" x2="122.5" y2="558.3" class="ld"/>
<line x1="55.2" y1="580.0" x2="55.2" y2="614.4" class="ld"/>
<line x1="105.5" y1="610.1" x2="131.4" y2="625.2" class="ld"/>
<line x1="198.2" y1="559.6" x2="225.6" y2="575.8" class="ld"/>
<line x1="234.1" y1="434.8" x2="260.5" y2="419.7" class="ld"/>
<line x1="373.0" y1="315.5" x2="399.4" y2="328.8" class="ld"/>
<line x1="412.2" y1="287.5" x2="440.0" y2="302.7" class="ld"/>
<line x1="467.0" y1="259.8" x2="494.5" y2="276.0" class="ld"/>
<line x1="526.2" y1="232.6" x2="552.3" y2="247.3" class="ld"/>
<line x1="553.6" y1="282.2" x2="579.8" y2="295.9" class="ld"/>
<line x1="500.0" y1="318.3" x2="524.9" y2="332.0" class="ld"/>
<line x1="445.4" y1="351.2" x2="470.0" y2="365.1" class="ld"/>
<line x1="402.2" y1="376.2" x2="430.9" y2="391.2" class="ld"/>
<line x1="498.2" y1="427.3" x2="525.6" y2="442.2" class="ld"/>
<line x1="506.9" y1="497.1" x2="533.1" y2="512.0" class="ld"/>
<line x1="625.9" y1="352.4" x2="652.1" y2="367.4" class="ld"/>
<line x1="644.6" y1="411.0" x2="670.8" y2="426.0" class="ld"/>
<line x1="571.1" y1="463.3" x2="597.3" y2="478.3" class="ld"/>
<line x1="846.3" y1="259.5" x2="872.3" y2="246.0" class="ld"/>
<line x1="830.7" y1="305.2" x2="857.7" y2="319.8" class="ld"/>
<line x1="823.0" y1="413.7" x2="852.9" y2="395.8" class="ld"/>
<path d="M47.10,512.10 L57.70,507.00 C59.60,506.20 61.00,510.30 59.40,511.70 L49.10,517.30 Z" fill="#7e7e7e" stroke="#000" stroke-width="1.2"/>
<line x1="51.7" y1="509.9" x2="53.7" y2="514.5" stroke="#444" stroke-width="0.6"/>
<line x1="53.4" y1="509.1" x2="55.4" y2="513.6" stroke="#444" stroke-width="0.6"/>
<line x1="55.1" y1="508.2" x2="57.1" y2="512.8" stroke="#444" stroke-width="0.6"/>
<line x1="56.8" y1="507.4" x2="58.8" y2="512.0" stroke="#444" stroke-width="0.6"/>
<polygon points="36.91,518.56 37.85,512.93 42.67,509.42 43.29,509.37 44.09,509.75 45.03,510.55 46.04,511.70 47.05,513.13 47.99,514.74 48.80,516.42 49.42,518.06 49.81,519.54 49.94,520.76 49.81,521.65 49.42,522.13 44.35,523.87 40.16,524.02" fill="#fff" stroke="#000" stroke-width="1.3" stroke-linejoin="round"/>
<polygon points="45.29,518.24 44.35,523.87 40.16,524.02 36.91,518.56 37.85,512.93 42.04,512.78" fill="none" stroke="#666" stroke-width="0.7"/>
<line x1="45.3" y1="518.2" x2="48.1" y2="516.7" stroke="#777" stroke-width="0.6"/>
<line x1="37.9" y1="512.9" x2="40.7" y2="511.4" stroke="#777" stroke-width="0.6"/>
<line x1="42.0" y1="512.8" x2="44.9" y2="511.3" stroke="#777" stroke-width="0.6"/>
<path d="M49.42,522.13 A2.2 7.2 -28 0 1 42.67,509.42" fill="none" stroke="#888" stroke-width="0.7" stroke-dasharray="1.2 0.8"/>
<path d="M98.70,542.60 L109.30,537.50 C111.20,536.70 112.60,540.80 111.00,542.20 L100.70,547.80 Z" fill="#7e7e7e" stroke="#000" stroke-width="1.2"/>
<line x1="103.3" y1="540.4" x2="105.3" y2="545.0" stroke="#444" stroke-width="0.6"/>
<line x1="105.0" y1="539.6" x2="107.0" y2="544.2" stroke="#444" stroke-width="0.6"/>
<line x1="106.7" y1="538.7" x2="108.7" y2="543.3" stroke="#444" stroke-width="0.6"/>
<line x1="108.4" y1="537.9" x2="110.4" y2="542.5" stroke="#444" stroke-width="0.6"/>
<polygon points="88.51,549.06 89.45,543.43 94.27,539.92 94.89,539.87 95.69,540.25 96.63,541.05 97.64,542.20 98.65,543.63 99.59,545.24 100.40,546.92 101.02,548.56 101.41,550.04 101.54,551.26 101.41,552.15 101.02,552.63 95.95,554.37 91.76,554.52" fill="#fff" stroke="#000" stroke-width="1.3" stroke-linejoin="round"/>
<polygon points="96.89,548.74 95.95,554.37 91.76,554.52 88.51,549.06 89.45,543.43 93.64,543.28" fill="none" stroke="#666" stroke-width="0.7"/>
<line x1="96.9" y1="548.7" x2="99.7" y2="547.2" stroke="#777" stroke-width="0.6"/>
<line x1="89.5" y1="543.4" x2="92.3" y2="541.9" stroke="#777" stroke-width="0.6"/>
<line x1="93.6" y1="543.3" x2="96.5" y2="541.8" stroke="#777" stroke-width="0.6"/>
<path d="M101.02,552.63 A2.2 7.2 -28 0 1 94.27,539.92" fill="none" stroke="#888" stroke-width="0.7" stroke-dasharray="1.2 0.8"/>
<path d="M47.90,573.80 L58.50,568.70 C60.40,567.90 61.80,572.00 60.20,573.40 L49.90,579.00 Z" fill="#7e7e7e" stroke="#000" stroke-width="1.2"/>
<line x1="52.5" y1="571.6" x2="54.5" y2="576.2" stroke="#444" stroke-width="0.6"/>
<line x1="54.2" y1="570.8" x2="56.2" y2="575.4" stroke="#444" stroke-width="0.6"/>
<line x1="55.9" y1="569.9" x2="57.9" y2="574.5" stroke="#444" stroke-width="0.6"/>
<line x1="57.6" y1="569.1" x2="59.6" y2="573.7" stroke="#444" stroke-width="0.6"/>
<polygon points="37.71,580.26 38.65,574.63 43.47,571.12 44.09,571.07 44.89,571.45 45.83,572.25 46.84,573.40 47.85,574.83 48.79,576.44 49.60,578.12 50.22,579.76 50.61,581.24 50.74,582.46 50.61,583.35 50.22,583.83 45.15,585.57 40.96,585.72" fill="#fff" stroke="#000" stroke-width="1.3" stroke-linejoin="round"/>
<polygon points="46.09,579.94 45.15,585.57 40.96,585.72 37.71,580.26 38.65,574.63 42.84,574.48" fill="none" stroke="#666" stroke-width="0.7"/>
<line x1="46.1" y1="579.9" x2="48.9" y2="578.4" stroke="#777" stroke-width="0.6"/>
<line x1="38.7" y1="574.6" x2="41.5" y2="573.1" stroke="#777" stroke-width="0.6"/>
<line x1="42.8" y1="574.5" x2="45.7" y2="573.0" stroke="#777" stroke-width="0.6"/>
<path d="M50.22,583.83 A2.2 7.2 -28 0 1 43.47,571.12" fill="none" stroke="#888" stroke-width="0.7" stroke-dasharray="1.2 0.8"/>
<path d="M98.70,602.90 L109.30,597.80 C111.20,597.00 112.60,601.10 111.00,602.50 L100.70,608.10 Z" fill="#7e7e7e" stroke="#000" stroke-width="1.2"/>
<line x1="103.3" y1="600.7" x2="105.3" y2="605.3" stroke="#444" stroke-width="0.6"/>
<line x1="105.0" y1="599.9" x2="107.0" y2="604.5" stroke="#444" stroke-width="0.6"/>
<line x1="106.7" y1="599.0" x2="108.7" y2="603.6" stroke="#444" stroke-width="0.6"/>
<line x1="108.4" y1="598.2" x2="110.4" y2="602.8" stroke="#444" stroke-width="0.6"/>
<polygon points="88.51,609.36 89.45,603.73 94.27,600.22 94.89,600.17 95.69,600.55 96.63,601.35 97.64,602.50 98.65,603.93 99.59,605.54 100.40,607.22 101.02,608.86 101.41,610.34 101.54,611.56 101.41,612.45 101.02,612.93 95.95,614.67 91.76,614.82" fill="#fff" stroke="#000" stroke-width="1.3" stroke-linejoin="round"/>
<polygon points="96.89,609.04 95.95,614.67 91.76,614.82 88.51,609.36 89.45,603.73 93.64,603.58" fill="none" stroke="#666" stroke-width="0.7"/>
<line x1="96.9" y1="609.0" x2="99.7" y2="607.5" stroke="#777" stroke-width="0.6"/>
<line x1="89.5" y1="603.7" x2="92.3" y2="602.2" stroke="#777" stroke-width="0.6"/>
<line x1="93.6" y1="603.6" x2="96.5" y2="602.1" stroke="#777" stroke-width="0.6"/>
<path d="M101.02,612.93 A2.2 7.2 -28 0 1 94.27,600.22" fill="none" stroke="#888" stroke-width="0.7" stroke-dasharray="1.2 0.8"/>
<ellipse cx="407.30" cy="337.20" rx="7.20" ry="10.80" transform="rotate(-28.50 407.30 337.20)" fill="#fff" stroke="#000" stroke-width="1.4" />
<ellipse cx="406.70" cy="337.40" rx="4.60" ry="6.60" transform="rotate(-28.50 406.70 337.40)" fill="#fff" stroke="#666" stroke-width="0.8" />
<ellipse cx="406.70" cy="337.40" rx="3.00" ry="4.30" transform="rotate(-28.50 406.70 337.40)" fill="#9a9a9a" stroke="#444" stroke-width="0.7" />
<ellipse cx="407.00" cy="337.30" rx="1.60" ry="2.30" transform="rotate(-28.50 407.00 337.30)" fill="#eee" stroke="#555" stroke-width="0.6" />
<ellipse cx="394.60" cy="366.30" rx="7.20" ry="10.80" transform="rotate(-28.50 394.60 366.30)" fill="#fff" stroke="#000" stroke-width="1.4" />
<ellipse cx="394.00" cy="366.50" rx="4.60" ry="6.60" transform="rotate(-28.50 394.00 366.50)" fill="#fff" stroke="#666" stroke-width="0.8" />
<ellipse cx="394.00" cy="366.50" rx="3.00" ry="4.30" transform="rotate(-28.50 394.00 366.50)" fill="#9a9a9a" stroke="#444" stroke-width="0.7" />
<ellipse cx="394.30" cy="366.40" rx="1.60" ry="2.30" transform="rotate(-28.50 394.30 366.40)" fill="#eee" stroke="#555" stroke-width="0.6" />
<path d="M446.51,327.24 L462.71,318.34 A5.20 10.20 -28.78 0 0 452.89,300.46 L436.69,309.36 A5.20 10.20 -28.78 0 0 446.51,327.24 Z" fill="#e2e2e2" stroke="#000" stroke-width="1.4" stroke-linejoin="round"/>
<path d="M447.73,326.57 A5.20 10.20 -28.8 0 0 437.90,308.69" fill="none" stroke="#3a3a3a" stroke-width="0.9"/>
<path d="M448.33,326.24 A5.20 10.20 -28.8 0 0 438.51,308.36" fill="none" stroke="#999" stroke-width="0.6"/>
<path d="M449.75,325.46 A5.20 10.20 -28.8 0 0 439.93,307.58" fill="none" stroke="#3a3a3a" stroke-width="0.9"/>
<path d="M450.36,325.13 A5.20 10.20 -28.8 0 0 440.54,307.25" fill="none" stroke="#999" stroke-width="0.6"/>
<path d="M451.78,324.35 A5.20 10.20 -28.8 0 0 441.95,306.47" fill="none" stroke="#3a3a3a" stroke-width="0.9"/>
<path d="M452.38,324.01 A5.20 10.20 -28.8 0 0 442.56,306.13" fill="none" stroke="#999" stroke-width="0.6"/>
<path d="M453.80,323.23 A5.20 10.20 -28.8 0 0 443.98,305.36" fill="none" stroke="#3a3a3a" stroke-width="0.9"/>
<path d="M454.41,322.90 A5.20 10.20 -28.8 0 0 444.59,305.02" fill="none" stroke="#999" stroke-width="0.6"/>
<path d="M455.83,322.12 A5.20 10.20 -28.8 0 0 446.00,304.24" fill="none" stroke="#3a3a3a" stroke-width="0.9"/>
<path d="M456.43,321.79 A5.20 10.20 -28.8 0 0 446.61,303.91" fill="none" stroke="#999" stroke-width="0.6"/>
<path d="M457.85,321.01 A5.20 10.20 -28.8 0 0 448.03,303.13" fill="none" stroke="#3a3a3a" stroke-width="0.9"/>
<path d="M458.46,320.68 A5.20 10.20 -28.8 0 0 448.64,302.80" fill="none" stroke="#999" stroke-width="0.6"/>
<path d="M459.88,319.90 A5.20 10.20 -28.8 0 0 450.05,302.02" fill="none" stroke="#3a3a3a" stroke-width="0.9"/>
<path d="M460.48,319.56 A5.20 10.20 -28.8 0 0 450.66,301.68" fill="none" stroke="#999" stroke-width="0.6"/>
<path d="M461.90,318.78 A5.20 10.20 -28.8 0 0 452.08,300.91" fill="none" stroke="#3a3a3a" stroke-width="0.9"/>
<path d="M462.51,318.45 A5.20 10.20 -28.8 0 0 452.69,300.57" fill="none" stroke="#999" stroke-width="0.6"/>
<ellipse cx="441.60" cy="318.30" rx="5.20" ry="10.20" transform="rotate(-28.78 441.60 318.30)" fill="#f4f4f4" stroke="#000" stroke-width="1.4" />
<ellipse cx="441.86" cy="318.16" rx="3.74" ry="7.96" transform="rotate(-28.78 441.86 318.16)" fill="#d0d0d0" stroke="#555" stroke-width="0.8" />
<ellipse cx="442.13" cy="318.01" rx="2.60" ry="5.35" transform="rotate(-28.78 442.13 318.01)" fill="none" stroke="#777" stroke-width="0.5" />
<ellipse cx="442.13" cy="318.01" rx="3.22" ry="6.64" transform="rotate(-28.78 442.13 318.01)" fill="none" stroke="#777" stroke-width="0.5" />
<path d="M430.87,358.56 L449.07,348.66 A5.20 10.20 -28.54 0 0 439.33,330.74 L421.13,340.64 A5.20 10.20 -28.54 0 0 430.87,358.56 Z" fill="#e2e2e2" stroke="#000" stroke-width="1.4" stroke-linejoin="round"/>
<path d="M432.24,357.82 A5.20 10.20 -28.5 0 0 422.49,339.90" fill="none" stroke="#3a3a3a" stroke-width="0.9"/>
<path d="M432.92,357.45 A5.20 10.20 -28.5 0 0 423.17,339.53" fill="none" stroke="#999" stroke-width="0.6"/>
<path d="M434.51,356.58 A5.20 10.20 -28.5 0 0 424.77,338.66" fill="none" stroke="#3a3a3a" stroke-width="0.9"/>
<path d="M435.20,356.21 A5.20 10.20 -28.5 0 0 425.45,338.29" fill="none" stroke="#999" stroke-width="0.6"/>
<path d="M436.79,355.34 A5.20 10.20 -28.5 0 0 427.04,337.42" fill="none" stroke="#3a3a3a" stroke-width="0.9"/>
<path d="M437.47,354.97 A5.20 10.20 -28.5 0 0 427.72,337.05" fill="none" stroke="#999" stroke-width="0.6"/>
<path d="M439.06,354.11 A5.20 10.20 -28.5 0 0 429.32,336.18" fill="none" stroke="#3a3a3a" stroke-width="0.9"/>
<path d="M439.75,353.73 A5.20 10.20 -28.5 0 0 430.00,335.81" fill="none" stroke="#999" stroke-width="0.6"/>
<path d="M441.34,352.87 A5.20 10.20 -28.5 0 0 431.59,334.95" fill="none" stroke="#3a3a3a" stroke-width="0.9"/>
<path d="M442.02,352.50 A5.20 10.20 -28.5 0 0 432.27,334.58" fill="none" stroke="#999" stroke-width="0.6"/>
<path d="M443.61,351.63 A5.20 10.20 -28.5 0 0 433.87,333.71" fill="none" stroke="#3a3a3a" stroke-width="0.9"/>
<path d="M444.30,351.26 A5.20 10.20 -28.5 0 0 434.55,333.34" fill="none" stroke="#999" stroke-width="0.6"/>
<path d="M445.89,350.39 A5.20 10.20 -28.5 0 0 436.14,332.47" fill="none" stroke="#3a3a3a" stroke-width="0.9"/>
<path d="M446.57,350.02 A5.20 10.20 -28.5 0 0 436.82,332.10" fill="none" stroke="#999" stroke-width="0.6"/>
<path d="M448.16,349.16 A5.20 10.20 -28.5 0 0 438.42,331.23" fill="none" stroke="#3a3a3a" stroke-width="0.9"/>
<path d="M448.85,348.78 A5.20 10.20 -28.5 0 0 439.10,330.86" fill="none" stroke="#999" stroke-width="0.6"/>
<ellipse cx="426.00" cy="349.60" rx="5.20" ry="10.20" transform="rotate(-28.54 426.00 349.60)" fill="#f4f4f4" stroke="#000" stroke-width="1.4" />
<ellipse cx="426.26" cy="349.46" rx="3.74" ry="7.96" transform="rotate(-28.54 426.26 349.46)" fill="#d0d0d0" stroke="#555" stroke-width="0.8" />
<ellipse cx="426.53" cy="349.31" rx="2.60" ry="5.35" transform="rotate(-28.54 426.53 349.31)" fill="none" stroke="#777" stroke-width="0.5" />
<ellipse cx="426.53" cy="349.31" rx="3.22" ry="6.64" transform="rotate(-28.54 426.53 349.31)" fill="none" stroke="#777" stroke-width="0.5" />
<path d="M498.85,288.04 L502.04,286.60 L504.04,288.11 L508.20,286.34 A3.3 6.3 -24.3 0 0 503.00,274.86 L498.93,276.81 L498.74,279.31 L495.55,280.76 A2.4 4.0 -24.3 0 0 498.85,288.04 Z" fill="#fff" stroke="#000" stroke-width="1.3" stroke-linejoin="round"/>
<path d="M505.60,287.19 A3 6 -24.3 0 0 500.65,276.25" fill="none" stroke="#777" stroke-width="0.6"/>
<path d="M506.32,286.86 A3 6 -24.3 0 0 501.38,275.92" fill="none" stroke="#777" stroke-width="0.6"/>
<path d="M507.05,286.53 A3 6 -24.3 0 0 502.11,275.59" fill="none" stroke="#777" stroke-width="0.6"/>
<ellipse cx="497.20" cy="284.40" rx="2.40" ry="4.00" transform="rotate(-24.34 497.20 284.40)" fill="#fff" stroke="#000" stroke-width="1.1" />
<ellipse cx="497.56" cy="284.24" rx="1.30" ry="2.60" transform="rotate(-24.34 497.56 284.24)" fill="none" stroke="#999" stroke-width="0.5" />
<path d="M491.93,315.45 L495.13,314.02 L497.12,315.54 L501.37,313.75 A3.3 6.3 -24.1 0 0 496.23,302.25 L492.06,304.22 L491.86,306.72 L488.67,308.15 A2.4 4.0 -24.1 0 0 491.93,315.45 Z" fill="#fff" stroke="#000" stroke-width="1.3" stroke-linejoin="round"/>
<path d="M498.68,314.62 A3 6 -24.1 0 0 493.79,303.67" fill="none" stroke="#777" stroke-width="0.6"/>
<path d="M499.41,314.30 A3 6 -24.1 0 0 494.52,303.34" fill="none" stroke="#777" stroke-width="0.6"/>
<path d="M500.14,313.97 A3 6 -24.1 0 0 495.25,303.02" fill="none" stroke="#777" stroke-width="0.6"/>
<ellipse cx="490.30" cy="311.80" rx="2.40" ry="4.00" transform="rotate(-24.09 490.30 311.80)" fill="#fff" stroke="#000" stroke-width="1.1" />
<ellipse cx="490.67" cy="311.64" rx="1.30" ry="2.60" transform="rotate(-24.09 490.67 311.64)" fill="none" stroke="#999" stroke-width="0.5" />
<ellipse cx="571.00" cy="242.50" rx="7.50" ry="11.80" transform="rotate(-29.42 571.00 242.50)" fill="#fff" stroke="#000" stroke-width="1.4" />
<ellipse cx="572.05" cy="241.91" rx="6.15" ry="9.68" transform="rotate(-29.42 572.05 241.91)" fill="none" stroke="#aaa" stroke-width="0.7" />
<ellipse cx="572.05" cy="241.91" rx="5.40" ry="8.50" transform="rotate(-29.42 572.05 241.91)" fill="none" stroke="#999" stroke-width="0.7" />
<ellipse cx="572.05" cy="241.91" rx="4.65" ry="7.32" transform="rotate(-29.42 572.05 241.91)" fill="none" stroke="#bbb" stroke-width="0.7" />
<path d="M531.76,267.16 L562.94,249.57 Q567.87,247.13 568.49,251.04 L570.13,242.99 L562.40,240.23 Q565.42,242.78 560.77,245.74 L529.60,263.33 Z" fill="#fff" stroke="none"/>
<path d="M531.76,267.16 L562.94,249.57 Q567.87,247.13 568.49,251.04 M529.60,263.33 L560.77,245.74 Q565.42,242.78 562.40,240.23" fill="none" stroke="#000" stroke-width="1.25"/>
<path d="M563.12,247.86 Q567.23,246.00 567.60,248.44" fill="none" stroke="#bbb" stroke-width="0.6"/>
<path d="M527.63,269.60 L530.42,268.03 L530.68,267.08 L531.29,266.73 L532.11,266.96 L529.95,263.13 L529.72,263.95 L529.11,264.29 L528.16,264.02 L525.37,265.60 Z" fill="#fff" stroke="#000" stroke-width="1.1" stroke-linejoin="round"/>
<ellipse cx="526.50" cy="267.60" rx="1.30" ry="2.30" transform="rotate(-29.42 526.50 267.60)" fill="#fff" stroke="#000" stroke-width="1.1" />
<line x1="532.02" y1="265.17" x2="562.15" y2="248.18" stroke="#aaa" stroke-width="0.6"/>
<ellipse cx="572.30" cy="266.20" rx="7.50" ry="11.80" transform="rotate(-28.43 572.30 266.20)" fill="#fff" stroke="#000" stroke-width="1.4" />
<ellipse cx="573.36" cy="265.63" rx="6.15" ry="9.68" transform="rotate(-28.43 573.36 265.63)" fill="none" stroke="#aaa" stroke-width="0.7" />
<ellipse cx="573.36" cy="265.63" rx="5.40" ry="8.50" transform="rotate(-28.43 573.36 265.63)" fill="none" stroke="#999" stroke-width="0.7" />
<ellipse cx="573.36" cy="265.63" rx="4.65" ry="7.32" transform="rotate(-28.43 573.36 265.63)" fill="none" stroke="#bbb" stroke-width="0.7" />
<path d="M531.77,290.65 L564.11,273.13 Q569.09,270.78 569.64,274.69 L571.42,266.68 L563.74,263.79 Q566.71,266.38 562.02,269.27 L529.67,286.78 Z" fill="#fff" stroke="none"/>
<path d="M531.77,290.65 L564.11,273.13 Q569.09,270.78 569.64,274.69 M529.67,286.78 L562.02,269.27 Q566.71,266.38 563.74,263.79" fill="none" stroke="#000" stroke-width="1.25"/>
<path d="M564.33,271.43 Q568.47,269.64 568.79,272.08" fill="none" stroke="#bbb" stroke-width="0.6"/>
<path d="M527.60,293.02 L530.41,291.50 L530.69,290.55 L531.31,290.22 L532.12,290.46 L530.03,286.59 L529.78,287.40 L529.17,287.74 L528.22,287.45 L525.40,288.98 Z" fill="#fff" stroke="#000" stroke-width="1.1" stroke-linejoin="round"/>
<ellipse cx="526.50" cy="291.00" rx="1.30" ry="2.30" transform="rotate(-28.43 526.50 291.00)" fill="#fff" stroke="#000" stroke-width="1.1" />
<line x1="532.06" y1="288.67" x2="563.35" y2="271.73" stroke="#aaa" stroke-width="0.6"/>
<polygon points="488.40,443.00 498.00,444.40 500.00,446.00 510.00,448.00 516.10,446.70 519.40,444.40 523.40,445.00 532.10,440.70 535.00,441.60 536.60,443.60 536.80,446.00 528.10,451.40 526.10,456.70 526.80,458.00 532.80,462.70 533.40,470.10 531.40,472.80 522.80,470.10 511.40,467.40 508.00,467.40 506.70,470.10 500.00,470.70 495.40,470.10 492.70,466.10 495.40,461.40 496.70,458.70 489.40,452.70 488.70,446.70" fill="#fff" stroke="#000" stroke-width="1.3" stroke-linejoin="round"/>
<polygon points="521.50,445.20 532.10,440.70 535.00,441.60 536.60,443.60 536.80,446.00 528.10,451.40 525.50,452.50" fill="#b5b5b5" stroke="none"/>
<polygon points="493.20,465.80 495.60,461.80 498.40,462.40 499.20,468.40 495.60,469.60" fill="#b0b0b0" stroke="none"/>
<polyline points="490.00,446.00 506.00,452.50 531.00,463.50" fill="none" stroke="#555" stroke-width="0.9"/>
<polyline points="491.00,448.50 505.00,455.00 531.00,466.00" fill="none" stroke="#999" stroke-width="0.7"/>
<polyline points="489.50,451.00 496.00,453.00 500.00,457.00" fill="none" stroke="#777" stroke-width="0.7"/>
<polyline points="516.50,447.00 518.00,451.00 519.50,455.00" fill="none" stroke="#666" stroke-width="0.7"/>
<polyline points="520.00,445.00 522.00,449.50 524.00,454.00" fill="none" stroke="#777" stroke-width="0.7"/>
<polyline points="524.50,444.20 526.10,449.40" fill="none" stroke="#666" stroke-width="0.7"/>
<polyline points="526.70,443.15 528.30,448.35" fill="none" stroke="#666" stroke-width="0.7"/>
<polyline points="528.90,442.10 530.50,447.30" fill="none" stroke="#666" stroke-width="0.7"/>
<polyline points="531.10,441.05 532.70,446.25" fill="none" stroke="#666" stroke-width="0.7"/>
<polyline points="533.30,440.00 534.90,445.20" fill="none" stroke="#666" stroke-width="0.7"/>
<polygon points="496.50,458.50 502.00,456.00 507.50,457.50 510.20,462.50 507.50,468.00 501.50,469.30 497.00,466.00" fill="#f2f2f2" stroke="#222" stroke-width="0.9" stroke-linejoin="round"/>
<polyline points="502.00,456.00 503.00,462.00 501.50,469.30" fill="none" stroke="#555" stroke-width="0.7"/>
<polyline points="503.00,462.00 510.20,462.50" fill="none" stroke="#777" stroke-width="0.6"/>
<polygon points="493.00,463.50 496.00,460.20 499.50,462.50 499.80,468.20 496.50,470.20 493.30,468.50" fill="#a8a8a8" stroke="#111" stroke-width="0.9" stroke-linejoin="round"/>
<polyline points="494.00,461.50 494.80,469.00" fill="none" stroke="#555" stroke-width="0.6"/>
<polyline points="495.60,461.90 496.40,469.20" fill="none" stroke="#555" stroke-width="0.6"/>
<polyline points="497.20,462.30 498.00,469.40" fill="none" stroke="#555" stroke-width="0.6"/>
<polygon points="516.50,446.50 520.50,444.60 524.50,446.20 525.40,451.50 522.00,455.60 517.50,454.50" fill="#ececec" stroke="#333" stroke-width="0.8" stroke-linejoin="round"/>
<polyline points="520.50,444.60 521.20,450.50 522.00,455.60" fill="none" stroke="#666" stroke-width="0.6"/>
<polyline points="514.50,460.00 521.00,462.50 530.50,466.50" fill="none" stroke="#666" stroke-width="0.7"/>
<polyline points="521.00,462.50 522.50,469.00" fill="none" stroke="#777" stroke-width="0.6"/>
<polyline points="527.00,464.80 528.50,471.00" fill="none" stroke="#888" stroke-width="0.6"/>
<polygon points="463.90,484.80 473.50,486.20 475.50,487.80 485.50,489.80 491.60,488.50 494.90,486.20 498.90,486.80 507.60,482.50 510.50,483.40 512.10,485.40 512.30,487.80 503.60,493.20 501.60,498.50 502.30,499.80 508.30,504.50 508.90,511.90 506.90,514.60 498.30,511.90 486.90,509.20 483.50,509.20 482.20,511.90 475.50,512.50 470.90,511.90 468.20,507.90 470.90,503.20 472.20,500.50 464.90,494.50 464.20,488.50" fill="#fff" stroke="#000" stroke-width="1.3" stroke-linejoin="round"/>
<polygon points="497.00,487.00 507.60,482.50 510.50,483.40 512.10,485.40 512.30,487.80 503.60,493.20 501.00,494.30" fill="#b5b5b5" stroke="none"/>
<polygon points="468.70,507.60 471.10,503.60 473.90,504.20 474.70,510.20 471.10,511.40" fill="#b0b0b0" stroke="none"/>
<polyline points="465.50,487.80 481.50,494.30 506.50,505.30" fill="none" stroke="#555" stroke-width="0.9"/>
<polyline points="466.50,490.30 480.50,496.80 506.50,507.80" fill="none" stroke="#999" stroke-width="0.7"/>
<polyline points="465.00,492.80 471.50,494.80 475.50,498.80" fill="none" stroke="#777" stroke-width="0.7"/>
<polyline points="492.00,488.80 493.50,492.80 495.00,496.80" fill="none" stroke="#666" stroke-width="0.7"/>
<polyline points="495.50,486.80 497.50,491.30 499.50,495.80" fill="none" stroke="#777" stroke-width="0.7"/>
<polyline points="500.00,486.00 501.60,491.20" fill="none" stroke="#666" stroke-width="0.7"/>
<polyline points="502.20,484.95 503.80,490.15" fill="none" stroke="#666" stroke-width="0.7"/>
<polyline points="504.40,483.90 506.00,489.10" fill="none" stroke="#666" stroke-width="0.7"/>
<polyline points="506.60,482.85 508.20,488.05" fill="none" stroke="#666" stroke-width="0.7"/>
<polyline points="508.80,481.80 510.40,487.00" fill="none" stroke="#666" stroke-width="0.7"/>
<polygon points="472.00,500.30 477.50,497.80 483.00,499.30 485.70,504.30 483.00,509.80 477.00,511.10 472.50,507.80" fill="#f2f2f2" stroke="#222" stroke-width="0.9" stroke-linejoin="round"/>
<polyline points="477.50,497.80 478.50,503.80 477.00,511.10" fill="none" stroke="#555" stroke-width="0.7"/>
<polyline points="478.50,503.80 485.70,504.30" fill="none" stroke="#777" stroke-width="0.6"/>
<polygon points="468.50,505.30 471.50,502.00 475.00,504.30 475.30,510.00 472.00,512.00 468.80,510.30" fill="#a8a8a8" stroke="#111" stroke-width="0.9" stroke-linejoin="round"/>
<polyline points="469.50,503.30 470.30,510.80" fill="none" stroke="#555" stroke-width="0.6"/>
<polyline points="471.10,503.70 471.90,511.00" fill="none" stroke="#555" stroke-width="0.6"/>
<polyline points="472.70,504.10 473.50,511.20" fill="none" stroke="#555" stroke-width="0.6"/>
<polygon points="492.00,488.30 496.00,486.40 500.00,488.00 500.90,493.30 497.50,497.40 493.00,496.30" fill="#ececec" stroke="#333" stroke-width="0.8" stroke-linejoin="round"/>
<polyline points="496.00,486.40 496.70,492.30 497.50,497.40" fill="none" stroke="#666" stroke-width="0.6"/>
<polyline points="490.00,501.80 496.50,504.30 506.00,508.30" fill="none" stroke="#666" stroke-width="0.7"/>
<polyline points="496.50,504.30 498.00,510.80" fill="none" stroke="#777" stroke-width="0.6"/>
<polyline points="502.50,506.60 504.00,512.80" fill="none" stroke="#888" stroke-width="0.6"/>
<line x1="589.3" y1="411.0" x2="670.8" y2="362.4" stroke="#000" stroke-width="4.4" stroke-linecap="round"/>
<line x1="589.3" y1="411.0" x2="670.8" y2="362.4" stroke="#fff" stroke-width="1.8"/>
<circle cx="589.3" cy="411.0" r="2.3" fill="#fff" stroke="#000" stroke-width="1.1"/>
<circle cx="670.8" cy="362.4" r="2.3" fill="#fff" stroke="#000" stroke-width="1.1"/>
<line x1="589.3" y1="438.4" x2="670.8" y2="389.8" stroke="#000" stroke-width="4.4" stroke-linecap="round"/>
<line x1="589.3" y1="438.4" x2="670.8" y2="389.8" stroke="#fff" stroke-width="1.8"/>
<circle cx="589.3" cy="438.4" r="2.3" fill="#fff" stroke="#000" stroke-width="1.1"/>
<circle cx="670.8" cy="389.8" r="2.3" fill="#fff" stroke="#000" stroke-width="1.1"/>
<path d="M545.5,426.4 L573.5,438.8 L574.2,440.3 L574.2,479.6 L573.0,479.6" fill="none" stroke="#000" stroke-width="1.0"/>
<path d="M543.7,429.5 Q543.7,426.6 546.5,427.6 L572.3,439.7 L572.3,450.1 Q563.5,451 564.2,457.2 Q565,463 572.3,463.3 L572.3,478.3 L546.5,464.6 Q543.7,463 543.7,460.5 Z" fill="#fff" stroke="#000" stroke-width="1.3" stroke-linejoin="round"/>
<path d="M560.2,436.3 L572.3,441.9 L572.3,449.5 L560.2,443.9 Z" fill="#8a8a8a" stroke="#222" stroke-width="0.9"/>
<path d="M562,438.5 L566.5,440.5 L566.5,444.5 L562,442.5 Z" fill="#ccc" stroke="none"/>
<path d="M560.2,463.2 L572.3,468.8 L572.3,476.5 L560.2,470.9 Z" fill="#8a8a8a" stroke="#222" stroke-width="0.9"/>
<path d="M562,465.5 L566.5,467.5 L566.5,471.5 L562,469.5 Z" fill="#ccc" stroke="none"/>
<ellipse cx="548.80" cy="433.50" rx="2.30" ry="3.30" transform="rotate(-20.00 548.80 433.50)" fill="#fff" stroke="#555" stroke-width="0.7" />
<ellipse cx="548.80" cy="459.60" rx="2.30" ry="3.30" transform="rotate(-20.00 548.80 459.60)" fill="#fff" stroke="#555" stroke-width="0.7" />
<text transform="translate(556.0,455.5) rotate(-62)" font-family="Liberation Sans" font-style="italic" font-size="6.5" fill="#222">XX</text>
<ellipse cx="839.00" cy="265.70" rx="7.40" ry="11.90" transform="rotate(-31.00 839.00 265.70)" fill="#fff" stroke="#000" stroke-width="1.35" />
<path d="M820.21,281.54 L833.99,273.26 Q835.02,272.64 835.90,273.52 L841.27,268.89 L837.25,262.20 L830.64,264.77 Q831.00,265.96 829.97,266.57 L816.19,274.86 Z" fill="#fff" stroke="none"/>
<path d="M820.21,281.54 L833.99,273.26 Q835.02,272.64 835.90,273.52 M816.19,274.86 L829.97,266.57 Q831.00,265.96 830.64,264.77" fill="none" stroke="#000" stroke-width="1.3"/>
<path d="M841.27,268.89 A2.0 3.9 -31.0 0 0 837.25,262.20" fill="none" stroke="#999" stroke-width="0.8"/>
<ellipse cx="818.20" cy="278.20" rx="1.90" ry="3.90" transform="rotate(-31.00 818.20 278.20)" fill="#fff" stroke="#000" stroke-width="1.2" />
<path d="M819.41,280.21 A1.1 2.34 -31.0 0 0 816.99,276.19" fill="none" stroke="#777" stroke-width="0.9"/>
<ellipse cx="840.00" cy="293.80" rx="7.40" ry="11.90" transform="rotate(-27.61 840.00 293.80)" fill="#fff" stroke="#000" stroke-width="1.35" />
<path d="M820.01,308.66 L834.55,301.05 Q835.62,300.49 836.44,301.42 L842.07,297.12 L838.46,290.20 L831.71,292.38 Q832.00,293.58 830.94,294.14 L816.39,301.74 Z" fill="#fff" stroke="none"/>
<path d="M820.01,308.66 L834.55,301.05 Q835.62,300.49 836.44,301.42 M816.39,301.74 L830.94,294.14 Q832.00,293.58 831.71,292.38" fill="none" stroke="#000" stroke-width="1.3"/>
<path d="M842.07,297.12 A2.0 3.9 -27.6 0 0 838.46,290.20" fill="none" stroke="#999" stroke-width="0.8"/>
<ellipse cx="818.20" cy="305.20" rx="1.90" ry="3.90" transform="rotate(-27.61 818.20 305.20)" fill="#fff" stroke="#000" stroke-width="1.2" />
<path d="M819.28,307.27 A1.1 2.34 -27.6 0 0 817.12,303.13" fill="none" stroke="#777" stroke-width="0.9"/>
<polygon points="939.49,398.25 942.51,399.07 942.48,399.34 939.34,399.76 939.23,400.35 942.12,401.32 942.05,401.58 938.84,401.84 938.65,402.42 941.39,403.53 941.28,403.79 938.03,403.87 937.74,404.43 940.31,405.68 940.16,405.93 936.89,405.85 936.52,406.39 938.90,407.76 938.71,408.00 935.46,407.75 935.00,408.26 937.17,409.74 936.94,409.97 933.72,409.55 933.18,410.04 935.13,411.62 934.86,411.84 931.71,411.26 931.09,411.71 932.79,413.38 932.49,413.58 929.43,412.84 928.74,413.26 930.19,415.00 929.85,415.18 926.90,414.29 926.15,414.67 927.32,416.47 926.97,416.63 924.15,415.59 923.34,415.93 924.23,417.77 923.85,417.92 921.19,416.74 920.33,417.03 920.94,418.91 920.53,419.03 918.05,417.73 917.14,417.97 917.46,419.86 917.04,419.97 914.76,418.54 913.81,418.74 913.84,420.63 913.40,420.71 911.34,419.18 910.36,419.33 910.10,421.20 909.64,421.26 907.81,419.63 906.81,419.73 906.26,421.57 905.79,421.60 904.22,419.90 903.20,419.94 902.36,421.74 901.89,421.75 900.58,419.98 899.56,419.96 898.44,421.71 897.97,421.69 896.93,419.86 895.91,419.80 894.52,421.47 894.05,421.42 893.29,419.56 892.28,419.44 890.63,421.03 890.17,420.96 889.70,419.07 888.70,418.90 886.81,420.39 886.35,420.30 886.18,418.40 885.21,418.18 883.08,419.55 882.64,419.44 882.76,417.56 881.83,417.29 879.48,418.53 879.06,418.40 879.47,416.54 878.58,416.22 876.04,417.34 875.64,417.18 876.34,415.36 875.49,415.00 872.78,415.97 872.40,415.80 873.39,414.02 872.59,413.62 869.73,414.45 869.38,414.26 870.64,412.55 869.91,412.11 866.91,412.78 866.59,412.57 868.12,410.94 867.45,410.47 864.35,410.98 864.07,410.76 865.84,409.22 865.25,408.72 862.07,409.06 861.82,408.82 863.83,407.40 863.32,406.87 860.09,407.04 859.87,406.79 862.11,405.48 861.67,404.93 858.41,404.94 858.23,404.68 860.67,403.50 860.33,402.93 857.06,402.76 856.92,402.50 859.55,401.45 859.29,400.87 856.05,400.54 855.95,400.27 858.74,399.37 858.57,398.78 855.38,398.28 855.32,398.01 858.25,397.26 858.18,396.67 855.06,396.00 855.04,395.73 858.09,395.14 858.11,394.55 855.09,393.73 855.12,393.46 858.26,393.04 858.37,392.45 855.48,391.48 855.55,391.22 858.76,390.96 858.95,390.38 856.21,389.27 856.32,389.01 859.57,388.93 859.86,388.37 857.29,387.12 857.44,386.87 860.71,386.95 861.08,386.41 858.70,385.04 858.89,384.80 862.14,385.05 862.60,384.54 860.43,383.06 860.66,382.83 863.88,383.25 864.42,382.76 862.47,381.18 862.74,380.96 865.89,381.54 866.51,381.09 864.81,379.42 865.11,379.22 868.17,379.96 868.86,379.54 867.41,377.80 867.75,377.62 870.70,378.51 871.45,378.13 870.28,376.33 870.63,376.17 873.45,377.21 874.26,376.87 873.37,375.03 873.75,374.88 876.41,376.06 877.27,375.77 876.66,373.89 877.07,373.77 879.55,375.07 880.46,374.83 880.14,372.94 880.56,372.83 882.84,374.26 883.79,374.06 883.76,372.17 884.20,372.09 886.26,373.62 887.24,373.47 887.50,371.60 887.96,371.54 889.79,373.17 890.79,373.07 891.34,371.23 891.81,371.20 893.38,372.90 894.40,372.86 895.24,371.06 895.71,371.05 897.02,372.82 898.04,372.84 899.16,371.09 899.63,371.11 900.67,372.94 901.69,373.00 903.08,371.33 903.55,371.38 904.31,373.24 905.32,373.36 906.97,371.77 907.43,371.84 907.90,373.73 908.90,373.90 910.79,372.41 911.25,372.50 911.42,374.40 912.39,374.62 914.52,373.25 914.96,373.36 914.84,375.24 915.77,375.51 918.12,374.27 918.54,374.40 918.13,376.26 919.02,376.58 921.56,375.46 921.96,375.62 921.26,377.44 922.11,377.80 924.82,376.83 925.20,377.00 924.21,378.78 925.01,379.18 927.87,378.35 928.22,378.54 926.96,380.25 927.69,380.69 930.69,380.02 931.01,380.23 929.48,381.86 930.15,382.33 933.25,381.82 933.53,382.04 931.76,383.58 932.35,384.08 935.53,383.74 935.78,383.98 933.77,385.40 934.28,385.93 937.51,385.76 937.73,386.01 935.49,387.32 935.93,387.87 939.19,387.86 939.37,388.12 936.93,389.30 937.27,389.87 940.54,390.04 940.68,390.30 938.05,391.35 938.31,391.93 941.55,392.26 941.65,392.53 938.86,393.43 939.03,394.02 942.22,394.52 942.28,394.79 939.35,395.54 939.42,396.13 942.54,396.80 942.56,397.07 939.51,397.66" fill="#e6e6e6" stroke="#000" stroke-width="1.2"/>
<line x1="942.5" y1="394.1" x2="942.4" y2="400.1" stroke="#222" stroke-width="1.0"/>
<line x1="942.5" y1="394.3" x2="942.3" y2="400.3" stroke="#555" stroke-width="0.8"/>
<line x1="939.5" y1="393.2" x2="939.4" y2="399.2" stroke="#444" stroke-width="0.7"/>
<line x1="942.1" y1="396.3" x2="941.8" y2="402.3" stroke="#222" stroke-width="1.0"/>
<line x1="942.1" y1="396.6" x2="941.8" y2="402.6" stroke="#555" stroke-width="0.8"/>
<line x1="939.2" y1="395.3" x2="939.0" y2="401.3" stroke="#444" stroke-width="0.7"/>
<line x1="941.4" y1="398.5" x2="941.0" y2="404.5" stroke="#222" stroke-width="1.0"/>
<line x1="941.3" y1="398.8" x2="940.8" y2="404.8" stroke="#555" stroke-width="0.8"/>
<line x1="938.6" y1="397.4" x2="938.3" y2="403.3" stroke="#444" stroke-width="0.7"/>
<line x1="940.3" y1="400.7" x2="939.7" y2="406.6" stroke="#222" stroke-width="1.0"/>
<line x1="940.2" y1="400.9" x2="939.6" y2="406.9" stroke="#555" stroke-width="0.8"/>
<line x1="937.7" y1="399.4" x2="937.2" y2="405.3" stroke="#444" stroke-width="0.7"/>
<line x1="938.9" y1="402.8" x2="938.2" y2="408.7" stroke="#222" stroke-width="1.0"/>
<line x1="938.7" y1="403.0" x2="938.0" y2="408.9" stroke="#555" stroke-width="0.8"/>
<line x1="936.5" y1="401.4" x2="935.9" y2="407.2" stroke="#444" stroke-width="0.7"/>
<line x1="937.2" y1="404.7" x2="936.3" y2="410.6" stroke="#222" stroke-width="1.0"/>
<line x1="936.9" y1="405.0" x2="936.1" y2="410.8" stroke="#555" stroke-width="0.8"/>
<line x1="935.0" y1="403.3" x2="934.2" y2="409.1" stroke="#444" stroke-width="0.7"/>
<line x1="935.1" y1="406.6" x2="934.1" y2="412.4" stroke="#222" stroke-width="1.0"/>
<line x1="934.9" y1="406.8" x2="933.8" y2="412.6" stroke="#555" stroke-width="0.8"/>
<line x1="933.2" y1="405.0" x2="932.3" y2="410.8" stroke="#444" stroke-width="0.7"/>
<line x1="932.8" y1="408.4" x2="931.7" y2="414.1" stroke="#222" stroke-width="1.0"/>
<line x1="932.5" y1="408.6" x2="931.4" y2="414.3" stroke="#555" stroke-width="0.8"/>
<line x1="931.1" y1="406.7" x2="930.1" y2="412.4" stroke="#444" stroke-width="0.7"/>
<line x1="930.2" y1="410.0" x2="928.9" y2="415.7" stroke="#222" stroke-width="1.0"/>
<line x1="929.9" y1="410.2" x2="928.6" y2="415.8" stroke="#555" stroke-width="0.8"/>
<line x1="928.7" y1="408.3" x2="927.6" y2="413.9" stroke="#444" stroke-width="0.7"/>
<line x1="927.3" y1="411.5" x2="926.0" y2="417.1" stroke="#222" stroke-width="1.0"/>
<line x1="927.0" y1="411.6" x2="925.6" y2="417.2" stroke="#555" stroke-width="0.8"/>
<line x1="926.1" y1="409.7" x2="924.9" y2="415.2" stroke="#444" stroke-width="0.7"/>
<line x1="924.2" y1="412.8" x2="922.8" y2="418.3" stroke="#222" stroke-width="1.0"/>
<line x1="923.8" y1="412.9" x2="922.4" y2="418.4" stroke="#555" stroke-width="0.8"/>
<line x1="923.3" y1="410.9" x2="922.0" y2="416.4" stroke="#444" stroke-width="0.7"/>
<line x1="920.9" y1="413.9" x2="919.4" y2="419.4" stroke="#222" stroke-width="1.0"/>
<line x1="920.5" y1="414.0" x2="919.0" y2="419.5" stroke="#555" stroke-width="0.8"/>
<line x1="920.3" y1="412.0" x2="918.9" y2="417.5" stroke="#444" stroke-width="0.7"/>
<line x1="917.5" y1="414.9" x2="915.9" y2="420.2" stroke="#222" stroke-width="1.0"/>
<line x1="917.0" y1="415.0" x2="915.4" y2="420.3" stroke="#555" stroke-width="0.8"/>
<line x1="917.1" y1="413.0" x2="915.7" y2="418.3" stroke="#444" stroke-width="0.7"/>
<line x1="913.8" y1="415.6" x2="912.2" y2="420.9" stroke="#222" stroke-width="1.0"/>
<line x1="913.4" y1="415.7" x2="911.7" y2="421.0" stroke="#555" stroke-width="0.8"/>
<line x1="913.8" y1="413.7" x2="912.3" y2="419.0" stroke="#444" stroke-width="0.7"/>
<line x1="910.1" y1="416.2" x2="908.4" y2="421.4" stroke="#222" stroke-width="1.0"/>
<line x1="909.6" y1="416.3" x2="907.9" y2="421.4" stroke="#555" stroke-width="0.8"/>
<line x1="910.4" y1="414.3" x2="908.8" y2="419.5" stroke="#444" stroke-width="0.7"/>
<line x1="906.3" y1="416.6" x2="904.5" y2="421.7" stroke="#222" stroke-width="1.0"/>
<line x1="905.8" y1="416.6" x2="904.1" y2="421.7" stroke="#555" stroke-width="0.8"/>
<line x1="906.8" y1="414.7" x2="905.2" y2="419.8" stroke="#444" stroke-width="0.7"/>
<line x1="902.4" y1="416.7" x2="900.6" y2="421.8" stroke="#222" stroke-width="1.0"/>
<line x1="901.9" y1="416.7" x2="900.1" y2="421.7" stroke="#555" stroke-width="0.8"/>
<line x1="903.2" y1="414.9" x2="901.6" y2="420.0" stroke="#444" stroke-width="0.7"/>
<line x1="898.4" y1="416.7" x2="896.7" y2="421.6" stroke="#222" stroke-width="1.0"/>
<line x1="898.0" y1="416.7" x2="896.2" y2="421.6" stroke="#555" stroke-width="0.8"/>
<line x1="899.6" y1="415.0" x2="897.9" y2="419.9" stroke="#444" stroke-width="0.7"/>
<line x1="894.5" y1="416.5" x2="892.8" y2="421.3" stroke="#222" stroke-width="1.0"/>
<line x1="894.0" y1="416.4" x2="892.3" y2="421.2" stroke="#555" stroke-width="0.8"/>
<line x1="895.9" y1="414.8" x2="894.3" y2="419.7" stroke="#444" stroke-width="0.7"/>
<line x1="890.6" y1="416.0" x2="888.9" y2="420.8" stroke="#222" stroke-width="1.0"/>
<line x1="890.2" y1="416.0" x2="888.5" y2="420.7" stroke="#555" stroke-width="0.8"/>
<line x1="892.3" y1="414.4" x2="890.7" y2="419.2" stroke="#444" stroke-width="0.7"/>
<line x1="886.8" y1="415.4" x2="885.1" y2="420.0" stroke="#222" stroke-width="1.0"/>
<line x1="886.4" y1="415.3" x2="884.7" y2="419.9" stroke="#555" stroke-width="0.8"/>
<line x1="888.7" y1="413.9" x2="887.1" y2="418.6" stroke="#444" stroke-width="0.7"/>
<line x1="883.1" y1="414.6" x2="881.5" y2="419.1" stroke="#222" stroke-width="1.0"/>
<line x1="882.6" y1="414.4" x2="881.0" y2="419.0" stroke="#555" stroke-width="0.8"/>
<line x1="885.2" y1="413.2" x2="883.7" y2="417.8" stroke="#444" stroke-width="0.7"/>
<line x1="879.5" y1="413.5" x2="877.9" y2="418.0" stroke="#222" stroke-width="1.0"/>
<line x1="879.1" y1="413.4" x2="877.5" y2="417.9" stroke="#555" stroke-width="0.8"/>
<line x1="881.8" y1="412.3" x2="880.4" y2="416.8" stroke="#444" stroke-width="0.7"/>
<line x1="876.0" y1="412.3" x2="874.6" y2="416.7" stroke="#222" stroke-width="1.0"/>
<line x1="875.6" y1="412.2" x2="874.2" y2="416.6" stroke="#555" stroke-width="0.8"/>
<line x1="878.6" y1="411.2" x2="877.2" y2="415.7" stroke="#444" stroke-width="0.7"/>
<line x1="872.8" y1="411.0" x2="871.4" y2="415.3" stroke="#222" stroke-width="1.0"/>
<line x1="872.4" y1="410.8" x2="871.0" y2="415.1" stroke="#555" stroke-width="0.8"/>
<line x1="875.5" y1="410.0" x2="874.2" y2="414.4" stroke="#444" stroke-width="0.7"/>
<line x1="869.7" y1="409.4" x2="868.4" y2="413.7" stroke="#222" stroke-width="1.0"/>
<line x1="869.4" y1="409.3" x2="868.1" y2="413.5" stroke="#555" stroke-width="0.8"/>
<line x1="872.6" y1="408.6" x2="871.4" y2="413.0" stroke="#444" stroke-width="0.7"/>
<line x1="866.9" y1="407.8" x2="865.7" y2="412.0" stroke="#222" stroke-width="1.0"/>
<line x1="866.6" y1="407.6" x2="865.4" y2="411.8" stroke="#555" stroke-width="0.8"/>
<line x1="869.9" y1="407.1" x2="868.8" y2="411.4" stroke="#444" stroke-width="0.7"/>
<line x1="864.4" y1="406.0" x2="863.3" y2="410.1" stroke="#222" stroke-width="1.0"/>
<line x1="864.1" y1="405.8" x2="863.0" y2="409.9" stroke="#555" stroke-width="0.8"/>
<line x1="867.5" y1="405.5" x2="866.4" y2="409.7" stroke="#444" stroke-width="0.7"/>
<line x1="862.1" y1="404.1" x2="861.1" y2="408.2" stroke="#222" stroke-width="1.0"/>
<line x1="861.8" y1="403.8" x2="860.9" y2="407.9" stroke="#555" stroke-width="0.8"/>
<line x1="865.3" y1="403.7" x2="864.4" y2="407.9" stroke="#444" stroke-width="0.7"/>
<line x1="860.1" y1="402.0" x2="859.3" y2="406.1" stroke="#222" stroke-width="1.0"/>
<line x1="859.9" y1="401.8" x2="859.1" y2="405.9" stroke="#555" stroke-width="0.8"/>
<line x1="863.3" y1="401.9" x2="862.6" y2="406.0" stroke="#444" stroke-width="0.7"/>
<line x1="858.4" y1="399.9" x2="857.8" y2="404.0" stroke="#222" stroke-width="1.0"/>
<line x1="858.2" y1="399.7" x2="857.6" y2="403.7" stroke="#555" stroke-width="0.8"/>
<line x1="861.7" y1="399.9" x2="861.0" y2="404.0" stroke="#444" stroke-width="0.7"/>
<line x1="857.1" y1="397.8" x2="856.6" y2="401.8" stroke="#222" stroke-width="1.0"/>
<line x1="856.9" y1="397.5" x2="856.4" y2="401.5" stroke="#555" stroke-width="0.8"/>
<line x1="860.3" y1="397.9" x2="859.8" y2="402.0" stroke="#444" stroke-width="0.7"/>
<line x1="856.0" y1="395.5" x2="855.7" y2="399.5" stroke="#222" stroke-width="1.0"/>
<line x1="855.9" y1="395.3" x2="855.6" y2="399.3" stroke="#555" stroke-width="0.8"/>
<line x1="859.3" y1="395.9" x2="858.9" y2="399.9" stroke="#444" stroke-width="0.7"/>
<line x1="855.4" y1="393.3" x2="855.2" y2="397.3" stroke="#222" stroke-width="1.0"/>
<line x1="855.3" y1="393.0" x2="855.2" y2="397.0" stroke="#555" stroke-width="0.8"/>
<line x1="858.6" y1="393.8" x2="858.4" y2="397.8" stroke="#444" stroke-width="0.7"/>
<line x1="855.1" y1="391.0" x2="855.0" y2="395.0" stroke="#222" stroke-width="1.0"/>
<line x1="855.0" y1="390.7" x2="855.0" y2="394.7" stroke="#555" stroke-width="0.8"/>
<line x1="858.2" y1="391.7" x2="858.1" y2="395.7" stroke="#444" stroke-width="0.7"/>
<line x1="855.1" y1="388.7" x2="855.2" y2="392.7" stroke="#222" stroke-width="1.0"/>
<line x1="855.1" y1="388.5" x2="855.3" y2="392.5" stroke="#555" stroke-width="0.8"/>
<line x1="858.1" y1="389.6" x2="858.2" y2="393.6" stroke="#444" stroke-width="0.7"/>
<line x1="855.5" y1="386.5" x2="855.8" y2="390.5" stroke="#222" stroke-width="1.0"/>
<line x1="855.5" y1="386.2" x2="855.8" y2="390.2" stroke="#555" stroke-width="0.8"/>
<line x1="858.4" y1="387.5" x2="858.6" y2="391.5" stroke="#444" stroke-width="0.7"/>
<line x1="859.0" y1="385.4" x2="859.3" y2="389.5" stroke="#444" stroke-width="0.7"/>
<line x1="942.2" y1="389.5" x2="942.4" y2="395.5" stroke="#222" stroke-width="1.0"/>
<line x1="942.3" y1="389.8" x2="942.4" y2="395.8" stroke="#555" stroke-width="0.8"/>
<line x1="939.0" y1="389.0" x2="939.2" y2="395.0" stroke="#444" stroke-width="0.7"/>
<line x1="942.5" y1="391.8" x2="942.6" y2="397.8" stroke="#222" stroke-width="1.0"/>
<line x1="942.6" y1="392.1" x2="942.6" y2="398.1" stroke="#555" stroke-width="0.8"/>
<line x1="939.4" y1="391.1" x2="939.5" y2="397.1" stroke="#444" stroke-width="0.7"/>
<polygon points="939.49,393.25 942.51,394.07 942.48,394.34 939.34,394.76 939.23,395.35 942.12,396.32 942.05,396.58 938.84,396.84 938.65,397.42 941.39,398.53 941.28,398.79 938.03,398.87 937.74,399.43 940.31,400.68 940.16,400.93 936.89,400.85 936.52,401.39 938.90,402.76 938.71,403.00 935.46,402.75 935.00,403.26 937.17,404.74 936.94,404.97 933.72,404.55 933.18,405.04 935.13,406.62 934.86,406.84 931.71,406.26 931.09,406.71 932.79,408.38 932.49,408.58 929.43,407.84 928.74,408.26 930.19,410.00 929.85,410.18 926.90,409.29 926.15,409.67 927.32,411.47 926.97,411.63 924.15,410.59 923.34,410.93 924.23,412.77 923.85,412.92 921.19,411.74 920.33,412.03 920.94,413.91 920.53,414.03 918.05,412.73 917.14,412.97 917.46,414.86 917.04,414.97 914.76,413.54 913.81,413.74 913.84,415.63 913.40,415.71 911.34,414.18 910.36,414.33 910.10,416.20 909.64,416.26 907.81,414.63 906.81,414.73 906.26,416.57 905.79,416.60 904.22,414.90 903.20,414.94 902.36,416.74 901.89,416.75 900.58,414.98 899.56,414.96 898.44,416.71 897.97,416.69 896.93,414.86 895.91,414.80 894.52,416.47 894.05,416.42 893.29,414.56 892.28,414.44 890.63,416.03 890.17,415.96 889.70,414.07 888.70,413.90 886.81,415.39 886.35,415.30 886.18,413.40 885.21,413.18 883.08,414.55 882.64,414.44 882.76,412.56 881.83,412.29 879.48,413.53 879.06,413.40 879.47,411.54 878.58,411.22 876.04,412.34 875.64,412.18 876.34,410.36 875.49,410.00 872.78,410.97 872.40,410.80 873.39,409.02 872.59,408.62 869.73,409.45 869.38,409.26 870.64,407.55 869.91,407.11 866.91,407.78 866.59,407.57 868.12,405.94 867.45,405.47 864.35,405.98 864.07,405.76 865.84,404.22 865.25,403.72 862.07,404.06 861.82,403.82 863.83,402.40 863.32,401.87 860.09,402.04 859.87,401.79 862.11,400.48 861.67,399.93 858.41,399.94 858.23,399.68 860.67,398.50 860.33,397.93 857.06,397.76 856.92,397.50 859.55,396.45 859.29,395.87 856.05,395.54 855.95,395.27 858.74,394.37 858.57,393.78 855.38,393.28 855.32,393.01 858.25,392.26 858.18,391.67 855.06,391.00 855.04,390.73 858.09,390.14 858.11,389.55 855.09,388.73 855.12,388.46 858.26,388.04 858.37,387.45 855.48,386.48 855.55,386.22 858.76,385.96 858.95,385.38 856.21,384.27 856.32,384.01 859.57,383.93 859.86,383.37 857.29,382.12 857.44,381.87 860.71,381.95 861.08,381.41 858.70,380.04 858.89,379.80 862.14,380.05 862.60,379.54 860.43,378.06 860.66,377.83 863.88,378.25 864.42,377.76 862.47,376.18 862.74,375.96 865.89,376.54 866.51,376.09 864.81,374.42 865.11,374.22 868.17,374.96 868.86,374.54 867.41,372.80 867.75,372.62 870.70,373.51 871.45,373.13 870.28,371.33 870.63,371.17 873.45,372.21 874.26,371.87 873.37,370.03 873.75,369.88 876.41,371.06 877.27,370.77 876.66,368.89 877.07,368.77 879.55,370.07 880.46,369.83 880.14,367.94 880.56,367.83 882.84,369.26 883.79,369.06 883.76,367.17 884.20,367.09 886.26,368.62 887.24,368.47 887.50,366.60 887.96,366.54 889.79,368.17 890.79,368.07 891.34,366.23 891.81,366.20 893.38,367.90 894.40,367.86 895.24,366.06 895.71,366.05 897.02,367.82 898.04,367.84 899.16,366.09 899.63,366.11 900.67,367.94 901.69,368.00 903.08,366.33 903.55,366.38 904.31,368.24 905.32,368.36 906.97,366.77 907.43,366.84 907.90,368.73 908.90,368.90 910.79,367.41 911.25,367.50 911.42,369.40 912.39,369.62 914.52,368.25 914.96,368.36 914.84,370.24 915.77,370.51 918.12,369.27 918.54,369.40 918.13,371.26 919.02,371.58 921.56,370.46 921.96,370.62 921.26,372.44 922.11,372.80 924.82,371.83 925.20,372.00 924.21,373.78 925.01,374.18 927.87,373.35 928.22,373.54 926.96,375.25 927.69,375.69 930.69,375.02 931.01,375.23 929.48,376.86 930.15,377.33 933.25,376.82 933.53,377.04 931.76,378.58 932.35,379.08 935.53,378.74 935.78,378.98 933.77,380.40 934.28,380.93 937.51,380.76 937.73,381.01 935.49,382.32 935.93,382.87 939.19,382.86 939.37,383.12 936.93,384.30 937.27,384.87 940.54,385.04 940.68,385.30 938.05,386.35 938.31,386.93 941.55,387.26 941.65,387.53 938.86,388.43 939.03,389.02 942.22,389.52 942.28,389.79 939.35,390.54 939.42,391.13 942.54,391.80 942.56,392.07 939.51,392.66" fill="#fff" stroke="#000" stroke-width="1.2"/>
<ellipse cx="898.8" cy="391.4" rx="38.5" ry="22.3" transform="rotate(2.6 898.8 391.4)" fill="none" stroke="#555" stroke-width="0.8"/>
<ellipse cx="898.8" cy="392.59999999999997" rx="37.7" ry="21.8" transform="rotate(2.6 898.8 391.4)" fill="none" stroke="#999" stroke-width="0.6"/>
<path d="M926.59,394.28 Q924.33,397.50 922.44,400.80 L930.57,404.04 Q935.44,400.15 936.14,395.27 Z" fill="#fff" stroke="#333" stroke-width="0.95" stroke-linejoin="round"/>
<polyline points="928.91,395.59 925.60,400.80 929.81,402.28" fill="none" stroke="#888" stroke-width="0.6"/>
<line x1="925.2" y1="397.7" x2="934.2" y2="399.9" stroke="#999" stroke-width="0.5"/>
<path d="M919.21,403.12 Q914.04,404.85 909.10,406.78 L912.64,412.07 Q920.68,410.70 926.23,407.14 Z" fill="#fff" stroke="#333" stroke-width="0.95" stroke-linejoin="round"/>
<polyline points="919.82,404.93 911.75,407.85 913.79,410.44" fill="none" stroke="#888" stroke-width="0.6"/>
<line x1="914.5" y1="405.3" x2="919.9" y2="410.1" stroke="#999" stroke-width="0.5"/>
<path d="M904.03,407.48 Q897.93,407.06 891.82,406.88 L889.42,412.20 Q897.55,413.88 905.83,413.00 Z" fill="#fff" stroke="#333" stroke-width="0.95" stroke-linejoin="round"/>
<polyline points="902.71,409.10 892.96,408.62 892.04,411.33" fill="none" stroke="#888" stroke-width="0.6"/>
<line x1="897.9" y1="407.6" x2="897.6" y2="413.1" stroke="#999" stroke-width="0.5"/>
<path d="M886.86,405.70 Q882.16,403.29 877.21,401.07 L869.78,404.39 Q874.91,408.47 882.75,410.61 Z" fill="#fff" stroke="#333" stroke-width="0.95" stroke-linejoin="round"/>
<polyline points="884.10,406.50 876.39,402.81 872.87,404.60" fill="none" stroke="#888" stroke-width="0.6"/>
<line x1="881.6" y1="403.7" x2="875.7" y2="407.9" stroke="#999" stroke-width="0.5"/>
<path d="M874.24,398.46 Q872.74,394.98 870.84,391.56 L861.23,391.62 Q861.39,396.54 865.80,400.88 Z" fill="#fff" stroke="#333" stroke-width="0.95" stroke-linejoin="round"/>
<polyline points="871.11,398.14 868.39,392.64 863.61,392.84" fill="none" stroke="#888" stroke-width="0.6"/>
<line x1="871.9" y1="395.1" x2="862.6" y2="396.4" stroke="#999" stroke-width="0.5"/>
<path d="M871.01,388.52 Q873.27,385.30 875.16,382.00 L867.03,378.76 Q862.16,382.65 861.46,387.53 Z" fill="#fff" stroke="#333" stroke-width="0.95" stroke-linejoin="round"/>
<polyline points="868.69,387.21 872.00,382.00 867.79,380.52" fill="none" stroke="#888" stroke-width="0.6"/>
<line x1="872.4" y1="385.1" x2="863.4" y2="382.9" stroke="#999" stroke-width="0.5"/>
<path d="M878.39,379.68 Q883.56,377.95 888.50,376.02 L884.96,370.73 Q876.92,372.10 871.37,375.66 Z" fill="#fff" stroke="#333" stroke-width="0.95" stroke-linejoin="round"/>
<polyline points="877.78,377.87 885.85,374.95 883.81,372.36" fill="none" stroke="#888" stroke-width="0.6"/>
<line x1="883.1" y1="377.5" x2="877.7" y2="372.7" stroke="#999" stroke-width="0.5"/>
<path d="M893.57,375.32 Q899.67,375.74 905.78,375.92 L908.18,370.60 Q900.05,368.92 891.77,369.80 Z" fill="#fff" stroke="#333" stroke-width="0.95" stroke-linejoin="round"/>
<polyline points="894.89,373.70 904.64,374.18 905.56,371.47" fill="none" stroke="#888" stroke-width="0.6"/>
<line x1="899.7" y1="375.2" x2="900.0" y2="369.7" stroke="#999" stroke-width="0.5"/>
<path d="M910.74,377.10 Q915.44,379.51 920.39,381.73 L927.82,378.41 Q922.69,374.33 914.85,372.19 Z" fill="#fff" stroke="#333" stroke-width="0.95" stroke-linejoin="round"/>
<polyline points="913.50,376.30 921.21,379.99 924.73,378.20" fill="none" stroke="#888" stroke-width="0.6"/>
<line x1="916.0" y1="379.1" x2="921.9" y2="374.9" stroke="#999" stroke-width="0.5"/>
<path d="M923.36,384.34 Q924.86,387.82 926.76,391.24 L936.37,391.18 Q936.21,386.26 931.80,381.92 Z" fill="#fff" stroke="#333" stroke-width="0.95" stroke-linejoin="round"/>
<polyline points="926.49,384.66 929.21,390.16 933.99,389.96" fill="none" stroke="#888" stroke-width="0.6"/>
<line x1="925.7" y1="387.7" x2="935.0" y2="386.4" stroke="#999" stroke-width="0.5"/>
<path d="M914.27,395.40 Q911.30,397.33 908.71,399.43 L913.92,403.65 Q919.98,401.44 922.41,397.51 Z" fill="#fff" stroke="#444" stroke-width="0.95" stroke-linejoin="round"/>
<polyline points="916.26,396.63 911.18,400.31 913.71,402.13" fill="none" stroke="#888" stroke-width="0.6"/>
<line x1="912.0" y1="397.7" x2="918.9" y2="400.9" stroke="#999" stroke-width="0.5"/>
<path d="M903.67,400.75 Q899.09,400.52 894.53,400.57 L892.28,405.40 Q899.30,406.86 906.23,405.67 Z" fill="#fff" stroke="#444" stroke-width="0.95" stroke-linejoin="round"/>
<polyline points="903.32,402.37 894.98,402.20 894.20,404.41" fill="none" stroke="#888" stroke-width="0.6"/>
<line x1="899.1" y1="401.0" x2="899.3" y2="406.1" stroke="#999" stroke-width="0.5"/>
<path d="M889.40,399.05 Q886.67,396.85 883.57,394.81 L875.55,396.60 Q878.24,400.63 884.45,403.08 Z" fill="#fff" stroke="#444" stroke-width="0.95" stroke-linejoin="round"/>
<polyline points="886.98,399.84 881.66,395.96 878.16,396.90" fill="none" stroke="#888" stroke-width="0.6"/>
<line x1="886.0" y1="397.2" x2="879.3" y2="400.2" stroke="#999" stroke-width="0.5"/>
<path d="M882.21,391.60 Q883.37,389.07 884.08,386.48 L876.33,383.89 Q872.66,387.46 873.48,391.70 Z" fill="#fff" stroke="#444" stroke-width="0.95" stroke-linejoin="round"/>
<polyline points="879.54,390.96 881.25,386.29 877.66,385.24" fill="none" stroke="#888" stroke-width="0.6"/>
<line x1="882.5" y1="388.9" x2="873.9" y2="387.6" stroke="#999" stroke-width="0.5"/>
<path d="M887.51,383.99 Q891.70,383.05 895.67,381.86 L894.02,376.83 Q886.77,377.25 881.57,380.09 Z" fill="#fff" stroke="#444" stroke-width="0.95" stroke-linejoin="round"/>
<polyline points="886.60,382.41 894.05,380.46 893.08,378.22" fill="none" stroke="#888" stroke-width="0.6"/>
<line x1="891.3" y1="382.6" x2="887.4" y2="377.9" stroke="#999" stroke-width="0.5"/>
<path d="M901.32,381.97 Q905.37,383.31 909.62,384.42 L915.32,380.75 Q909.93,377.70 902.64,377.00 Z" fill="#fff" stroke="#444" stroke-width="0.95" stroke-linejoin="round"/>
<polyline points="902.85,380.63 910.43,382.87 912.81,381.13" fill="none" stroke="#888" stroke-width="0.6"/>
<line x1="905.7" y1="382.9" x2="909.4" y2="378.4" stroke="#999" stroke-width="0.5"/>
<path d="M913.22,387.04 Q914.09,389.67 915.42,392.24 L924.17,392.68 Q924.71,388.47 920.81,384.75 Z" fill="#fff" stroke="#444" stroke-width="0.95" stroke-linejoin="round"/>
<polyline points="916.05,386.96 918.05,391.71 921.99,391.77" fill="none" stroke="#888" stroke-width="0.6"/>
<line x1="914.9" y1="389.6" x2="923.4" y2="388.6" stroke="#999" stroke-width="0.5"/>
<ellipse cx="897.8" cy="390.4" rx="13.1" ry="7.6" fill="#fff" stroke="#555" stroke-width="0.8"/>
<path d="M879,386 C881,380 887,378 892,381 L897,388 C899,393 896,399 890,399 L884,398 C880,397 878,391 879,386 Z" fill="#fff" stroke="#222" stroke-width="1"/>
<path d="M882,384 C885,380 889,381 891,385 M881,391 L891,392 M884,388 L884,399 M888,388 L888,399 M893,383 L898,380 M886,394 L893,396" fill="none" stroke="#222" stroke-width="0.9"/>
<path d="M892,385 C898,382 905,384 909,388 L911,393 M894,391 C899,389 905,390 909,394 M896,395 C900,394 905,395 908,398" fill="none" stroke="#333" stroke-width="1"/>
<circle cx="884.5" cy="390.5" r="2.4" fill="#444" stroke="#111" stroke-width="0.6"/>
<circle cx="884.5" cy="390.5" r="1" fill="#ccc"/>
<path d="M876,392 C878,397 882,401 887,402 M878,387 L876,383 M889,401 L891,405" fill="none" stroke="#333" stroke-width="0.9"/>
<rect x="881.5" y="396" width="6" height="4" fill="#fff" stroke="#333" stroke-width="0.8"/>
<path d="M886.1,371 L886.1,378.5 C886.1,382 908.8,382 908.8,378.5 L908.8,371 Z" fill="#fff" stroke="#000" stroke-width="1.2"/>
<ellipse cx="897.45" cy="371" rx="11.35" ry="3.2" fill="#fff" stroke="#000" stroke-width="1.1"/>
<ellipse cx="897.45" cy="371.5" rx="9" ry="2.2" fill="#ddd" stroke="#666" stroke-width="0.7"/>
<rect x="888.7" y="350" width="19.3" height="21" fill="#fff" stroke="#000" stroke-width="1.2"/>
<line x1="892.5" y1="352" x2="892.5" y2="370" stroke="#555" stroke-width="0.8"/>
<line x1="894.2" y1="352" x2="894.2" y2="370" stroke="#555" stroke-width="0.8"/>
<line x1="902.5" y1="352" x2="902.5" y2="370" stroke="#555" stroke-width="0.8"/>
<line x1="904.2" y1="352" x2="904.2" y2="370" stroke="#555" stroke-width="0.8"/>
<path d="M887,332 L887,350 C887,354 909.7,354 909.7,350 L909.7,348 L914.5,346 C916,345.5 916,341.5 914.5,340.5 L909.7,338 L909.7,332 Z" fill="#fff" stroke="#000" stroke-width="1.2" stroke-linejoin="round"/>
<path d="M887,343 C887,347 909.7,347 909.7,343" fill="none" stroke="#555" stroke-width="0.8"/>
<ellipse cx="898.35" cy="332" rx="11.35" ry="3.3" fill="#fff" stroke="#000" stroke-width="1.1"/>
<path d="M890.6,321.5 L890.6,331 C890.6,334 905.6,334 905.6,331 L905.6,321.5 Z" fill="#fff" stroke="#000" stroke-width="1.2"/>
<ellipse cx="898.1" cy="321.5" rx="7.5" ry="3" fill="#fff" stroke="#000" stroke-width="1.1"/>
<ellipse cx="898.1" cy="321.6" rx="1.7" ry="0.8" fill="none" stroke="#555" stroke-width="0.6"/>
<path d="M890.6,326 C890.6,329 905.6,329 905.6,326" fill="none" stroke="#777" stroke-width="0.7"/>
<text transform="translate(39.02,479.20) scale(0.94,1)" class="lb">12</text>
<text transform="translate(108.77,527.80) scale(0.94,1)" class="lb">12</text>
<text transform="translate(43.12,635.30) scale(0.94,1)" class="lb">12</text>
<text transform="translate(127.27,641.30) scale(0.94,1)" class="lb">12</text>
<text transform="translate(223.20,590.80) scale(0.94,1)" class="lb">3</text>
<text transform="translate(259.87,418.80) scale(0.94,1)" class="lb">7</text>
<text transform="translate(361.33,315.10) scale(0.94,1)" class="lb">5</text>
<text transform="translate(389.85,287.20) scale(0.94,1)" class="lb">11</text>
<text transform="translate(444.13,261.10) scale(0.94,1)" class="lb">13</text>
<text transform="translate(516.56,232.30) scale(0.94,1)" class="lb">4</text>
<text transform="translate(580.56,312.10) scale(0.94,1)" class="lb">4</text>
<text transform="translate(518.83,350.70) scale(0.94,1)" class="lb">13</text>
<text transform="translate(465.85,382.40) scale(0.94,1)" class="lb">11</text>
<text transform="translate(430.73,406.10) scale(0.94,1)" class="lb">5</text>
<text transform="translate(489.60,427.30) scale(0.94,1)" class="lb">1</text>
<text transform="translate(529.40,528.00) scale(0.94,1)" class="lb">1</text>
<text transform="translate(614.38,352.90) scale(0.94,1)" class="lb">9</text>
<text transform="translate(668.78,441.70) scale(0.94,1)" class="lb">9</text>
<text transform="translate(591.74,492.50) scale(0.94,1)" class="lb">10</text>
<text transform="translate(872.25,246.60) scale(0.94,1)" class="lb">8</text>
<text transform="translate(855.55,334.30) scale(0.94,1)" class="lb">8</text>
<text transform="translate(812.81,427.70) scale(0.94,1)" class="lb">2</text>
</svg></body></html>
